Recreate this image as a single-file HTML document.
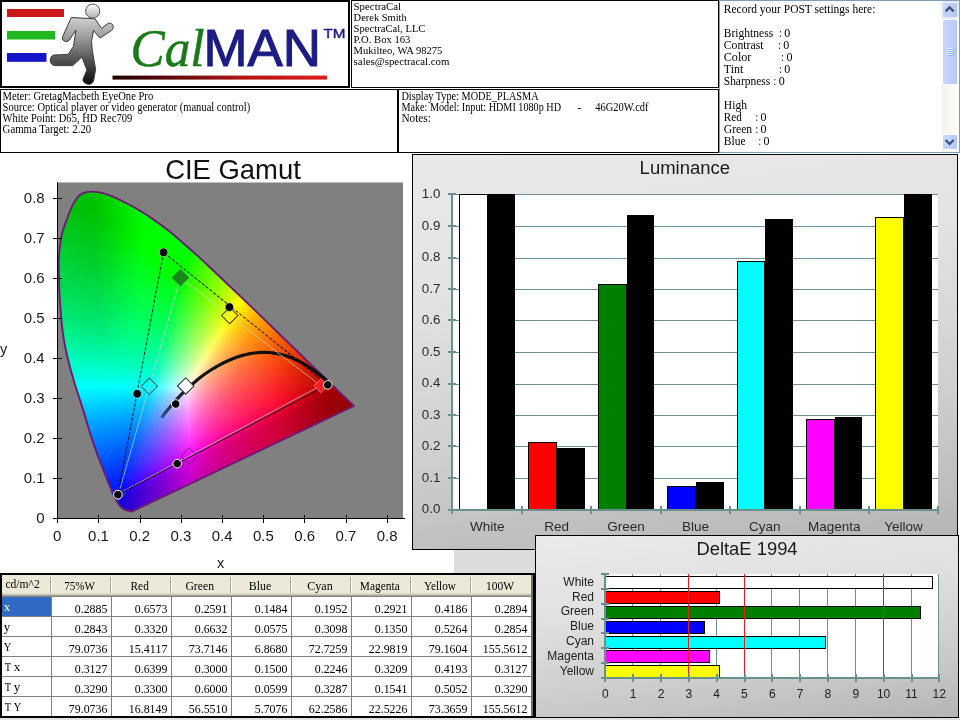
<!DOCTYPE html><html><head><meta charset="utf-8"><title>CalMAN</title><style>
html,body{margin:0;padding:0;background:#fff;}
body{width:960px;height:720px;position:relative;overflow:hidden;font-family:"Liberation Serif",serif;color:#000;}
.abs{position:absolute;box-sizing:border-box;}
.box{position:absolute;box-sizing:border-box;border:1px solid #000;background:#fff;}
.t{position:absolute;white-space:pre;font-family:"Liberation Serif",serif;font-size:12px;line-height:11px;color:#000;}
.s{font-family:"Liberation Sans",sans-serif;}
svg{position:absolute;left:0;top:0;overflow:visible;will-change:transform;}
svg text{font-family:"Liberation Sans",sans-serif;}
svg .sf text{font-family:"Liberation Serif",serif;}
</style></head><body><div class="box" style="left:0;top:0;width:350px;height:88px;border-width:2px;"></div>
<div class="box" style="left:351px;top:0;width:368px;height:88px;"></div>
<div class="box" style="left:0;top:89px;width:398px;height:64px;"></div>
<div class="box" style="left:397px;top:89px;width:322px;height:64px;border-left-width:2px;"></div>
<div class="abs" style="left:719px;top:0;width:241px;height:153px;border:1px solid #7f9db9;background:#fff;"></div>
<svg width="960" height="720" viewBox="0 0 960 720" style="font-family:'Liberation Serif',serif;"><g class="sf"><text x="353.60" y="10.40" font-size="11" textLength="47.50" lengthAdjust="spacingAndGlyphs" fill="#000">SpectraCal</text><text x="353.60" y="21.40" font-size="11" textLength="53.10" lengthAdjust="spacingAndGlyphs" fill="#000">Derek Smith</text><text x="353.60" y="32.40" font-size="11" textLength="71.85" lengthAdjust="spacingAndGlyphs" fill="#000">SpectraCal, LLC</text><text x="353.60" y="43.40" font-size="11" textLength="56.85" lengthAdjust="spacingAndGlyphs" fill="#000">P.O. Box 163</text><text x="353.60" y="54.40" font-size="11" textLength="88.70" lengthAdjust="spacingAndGlyphs" fill="#000">Mukilteo, WA 98275</text><text x="353.60" y="65.40" font-size="11" textLength="95.85" lengthAdjust="spacingAndGlyphs" fill="#000">sales@spectracal.com</text><text x="2.60" y="100.00" font-size="11.5" textLength="150.60" lengthAdjust="spacingAndGlyphs" fill="#000">Meter: GretagMacbeth EyeOne Pro</text><text x="2.60" y="111.00" font-size="11.5" textLength="247.60" lengthAdjust="spacingAndGlyphs" fill="#000">Source: Optical player or video generator (manual control)</text><text x="2.60" y="122.00" font-size="11.5" textLength="129.60" lengthAdjust="spacingAndGlyphs" fill="#000">White Point: D65, HD Rec709</text><text x="2.60" y="133.00" font-size="11.5" textLength="88.60" lengthAdjust="spacingAndGlyphs" fill="#000">Gamma Target: 2.20</text><text x="401.40" y="100.00" font-size="11.5" textLength="137.20" lengthAdjust="spacingAndGlyphs" fill="#000">Display Type: MODE_PLASMA</text><text x="401.40" y="111.00" font-size="11.5" textLength="159.60" lengthAdjust="spacingAndGlyphs" fill="#000">Make: Model: Input: HDMI 1080p HD</text><text x="577.60" y="111.00" font-size="11.5" textLength="3.60" lengthAdjust="spacingAndGlyphs" fill="#000">-</text><text x="595.20" y="111.00" font-size="11.5" textLength="53.40" lengthAdjust="spacingAndGlyphs" fill="#000">46G20W.cdf</text><text x="401.40" y="122.00" font-size="11.5" textLength="29.50" lengthAdjust="spacingAndGlyphs" fill="#000">Notes:</text><text x="723.80" y="12.80" font-size="12" textLength="151.60" lengthAdjust="spacingAndGlyphs" fill="#000">Record your POST settings here:</text><text x="723.80" y="36.80" font-size="12" textLength="49.45" lengthAdjust="spacingAndGlyphs" fill="#000">Brightness</text><text x="779.20" y="36.80" font-size="12" textLength="2.60" lengthAdjust="spacingAndGlyphs" fill="#000">:</text><text x="784.30" y="36.80" font-size="12" textLength="6.00" lengthAdjust="spacingAndGlyphs" fill="#000">0</text><text x="723.80" y="48.80" font-size="12" textLength="39.70" lengthAdjust="spacingAndGlyphs" fill="#000">Contrast</text><text x="778.30" y="48.80" font-size="12" textLength="2.60" lengthAdjust="spacingAndGlyphs" fill="#000">:</text><text x="783.30" y="48.80" font-size="12" textLength="6.00" lengthAdjust="spacingAndGlyphs" fill="#000">0</text><text x="723.80" y="60.80" font-size="12" textLength="27.50" lengthAdjust="spacingAndGlyphs" fill="#000">Color</text><text x="781.30" y="60.80" font-size="12" textLength="2.60" lengthAdjust="spacingAndGlyphs" fill="#000">:</text><text x="786.50" y="60.80" font-size="12" textLength="6.00" lengthAdjust="spacingAndGlyphs" fill="#000">0</text><text x="723.80" y="72.80" font-size="12" textLength="19.45" lengthAdjust="spacingAndGlyphs" fill="#000">Tint</text><text x="779.20" y="72.80" font-size="12" textLength="2.60" lengthAdjust="spacingAndGlyphs" fill="#000">:</text><text x="784.30" y="72.80" font-size="12" textLength="6.00" lengthAdjust="spacingAndGlyphs" fill="#000">0</text><text x="723.80" y="84.80" font-size="12" textLength="46.30" lengthAdjust="spacingAndGlyphs" fill="#000">Sharpness</text><text x="773.50" y="84.80" font-size="12" textLength="2.60" lengthAdjust="spacingAndGlyphs" fill="#000">:</text><text x="778.70" y="84.80" font-size="12" textLength="6.00" lengthAdjust="spacingAndGlyphs" fill="#000">0</text><text x="723.80" y="108.80" font-size="12" textLength="23.20" lengthAdjust="spacingAndGlyphs" fill="#000">High</text><text x="723.80" y="120.80" font-size="12" textLength="17.95" lengthAdjust="spacingAndGlyphs" fill="#000">Red</text><text x="755.50" y="120.80" font-size="12" textLength="2.60" lengthAdjust="spacingAndGlyphs" fill="#000">:</text><text x="760.50" y="120.80" font-size="12" textLength="6.00" lengthAdjust="spacingAndGlyphs" fill="#000">0</text><text x="723.80" y="132.80" font-size="12" textLength="28.40" lengthAdjust="spacingAndGlyphs" fill="#000">Green</text><text x="755.50" y="132.80" font-size="12" textLength="2.60" lengthAdjust="spacingAndGlyphs" fill="#000">:</text><text x="760.50" y="132.80" font-size="12" textLength="6.00" lengthAdjust="spacingAndGlyphs" fill="#000">0</text><text x="723.80" y="144.80" font-size="12" textLength="21.70" lengthAdjust="spacingAndGlyphs" fill="#000">Blue</text><text x="758.40" y="144.80" font-size="12" textLength="2.60" lengthAdjust="spacingAndGlyphs" fill="#000">:</text><text x="763.45" y="144.80" font-size="12" textLength="6.00" lengthAdjust="spacingAndGlyphs" fill="#000">0</text></g></svg>
<svg width="960" height="720" viewBox="0 0 960 720">
<defs>
<linearGradient id="sbt" x1="0" x2="1" y1="0" y2="0"><stop offset="0" stop-color="#f3f1ec"/><stop offset="1" stop-color="#fefefb"/></linearGradient>
<linearGradient id="sbb" x1="0" x2="1" y1="0" y2="0"><stop offset="0" stop-color="#c9d7fc"/><stop offset="0.7" stop-color="#bccdfa"/><stop offset="1" stop-color="#b0c3f4"/></linearGradient>
</defs>
<rect x="942" y="1" width="17" height="151" fill="url(#sbt)"/>
<rect x="942.5" y="2.5" width="15" height="15" rx="2" fill="url(#sbb)" stroke="#fff" />
<rect x="942.5" y="134.5" width="15" height="15" rx="2" fill="url(#sbb)" stroke="#fff"/>
<rect x="942.5" y="19.5" width="15" height="65" rx="2" fill="url(#sbb)" stroke="#fff"/>
<rect x="942" y="2" width="16" height="16" rx="2.5" fill="none" stroke="#b4c4ee" stroke-width="0.6"/>
<path d="M945.6,11.4 L949.6,7.4 L953.6,11.4" fill="none" stroke="#3a4f80" stroke-width="2.2"/>
<path d="M945.6,140 L949.6,144 L953.6,140" fill="none" stroke="#3a4f80" stroke-width="2.2"/>
<path d="M947,48.5h6M947,50.5h6M947,52.5h6M947,54.5h6" stroke="#eef4fe" stroke-width="1"/>
<path d="M948,49.5h6M948,51.5h6M948,53.5h6M948,55.5h6" stroke="#8cb0f8" stroke-width="1"/>
</svg>
<svg width="960" height="720" viewBox="0 0 960 720">
<defs>
<linearGradient id="mg" x1="0" y1="0" x2="0" y2="1"><stop offset="0" stop-color="#d0d0d0"/><stop offset="0.3" stop-color="#9c9c9c"/><stop offset="0.62" stop-color="#565656"/><stop offset="1" stop-color="#0c0c0c"/></linearGradient>
<linearGradient id="hg" x1="0" y1="0" x2="0" y2="1"><stop offset="0" stop-color="#fdfdfd"/><stop offset="1" stop-color="#b0b0b0"/></linearGradient>
<linearGradient id="ul" x1="0" y1="0" x2="1" y2="0"><stop offset="0" stop-color="#200000"/><stop offset="0.25" stop-color="#5a0808"/><stop offset="0.6" stop-color="#b01414"/><stop offset="1" stop-color="#e01c1c"/></linearGradient>
</defs>
<rect x="7" y="9" width="57" height="8" fill="#c81818"/>
<rect x="7" y="31" width="48" height="8.5" fill="#1fb81f"/>
<rect x="7" y="53" width="39.5" height="8.8" fill="#1414c8"/>
<path d="M 71.25,17.50 L 95.00,18.75 L 101.50,28.50 L 108.50,23.12 Q 112.50,22.75 113.25,26.50 Q 113.25,29.38 111.25,30.62 L 100.00,38.12 L 93.50,30.62 L 91.50,41.25 L 92.25,50.00 L 95.62,69.38 L 93.50,81.25 Q 91.25,85.25 86.88,84.00 Q 82.25,82.50 83.12,78.75 L 86.88,70.00 L 81.88,56.88 L 72.75,65.62 L 54.38,65.62 Q 50.00,64.38 50.25,60.00 Q 50.62,55.62 53.75,55.00 L 68.12,54.38 L 73.50,46.25 L 76.00,30.00 L 68.50,41.00 Q 65.00,42.75 62.88,40.00 Q 61.75,38.12 63.12,35.62 Z" fill="url(#mg)" stroke="#3a3a3a" stroke-width="1" stroke-linejoin="round"/>
<circle cx="92.7" cy="11.1" r="7.1" fill="url(#hg)" stroke="#555" stroke-width="1"/>
<rect x="112.5" y="75.6" width="214.5" height="4" fill="url(#ul)"/>
<text x="130.6" y="65.5" style="font-family:'Liberation Serif',serif;font-style:italic;font-size:53.5px;" fill="#1a7a1a" stroke="#1a7a1a" stroke-width="0.5" textLength="74" lengthAdjust="spacingAndGlyphs">Cal</text>
<text x="203.4" y="66.2" style="font-size:52.5px;" fill="#1c1c84" stroke="#1c1c84" stroke-width="1.1" textLength="117.5" lengthAdjust="spacingAndGlyphs">MAN</text>
<text x="323.5" y="37.5" style="font-size:13px;" fill="#1c1c84" stroke="#1c1c84" stroke-width="0.4" textLength="22" lengthAdjust="spacingAndGlyphs">TM</text>
</svg>
<svg width="960" height="720" viewBox="0 0 960 720"><defs><linearGradient id="r0"><stop offset="0" stop-color="#00bf00"/><stop offset="1" stop-color="#00c400"/></linearGradient><linearGradient id="r1"><stop offset="0" stop-color="#00bb00"/><stop offset="1" stop-color="#00cf00"/></linearGradient><linearGradient id="r2"><stop offset="0" stop-color="#00ba00"/><stop offset="1" stop-color="#00d500"/></linearGradient><linearGradient id="r3"><stop offset="0" stop-color="#00ba00"/><stop offset="0.5" stop-color="#00c400"/><stop offset="1" stop-color="#00db00"/></linearGradient><linearGradient id="r4"><stop offset="0" stop-color="#00bb03"/><stop offset="0.447" stop-color="#00c300"/><stop offset="1" stop-color="#00e100"/></linearGradient><linearGradient id="r5"><stop offset="0" stop-color="#00bc06"/><stop offset="0.434" stop-color="#00c300"/><stop offset="1" stop-color="#00e700"/></linearGradient><linearGradient id="r6"><stop offset="0" stop-color="#00bd08"/><stop offset="0.397" stop-color="#00c200"/><stop offset="1" stop-color="#00ec00"/></linearGradient><linearGradient id="r7"><stop offset="0" stop-color="#00be0a"/><stop offset="0.371" stop-color="#00c100"/><stop offset="1" stop-color="#00ef00"/></linearGradient><linearGradient id="r8"><stop offset="0" stop-color="#00be0c"/><stop offset="0.358" stop-color="#00c100"/><stop offset="1" stop-color="#00f400"/></linearGradient><linearGradient id="r9"><stop offset="0" stop-color="#00bf0e"/><stop offset="0.329" stop-color="#00c000"/><stop offset="1" stop-color="#00f700"/></linearGradient><linearGradient id="r10"><stop offset="0" stop-color="#00c00f"/><stop offset="0.392" stop-color="#00c400"/><stop offset="1" stop-color="#00fa00"/></linearGradient><linearGradient id="r11"><stop offset="0" stop-color="#00c111"/><stop offset="0.367" stop-color="#00c300"/><stop offset="1" stop-color="#00fd00"/></linearGradient><linearGradient id="r12"><stop offset="0" stop-color="#00c213"/><stop offset="0.373" stop-color="#00c402"/><stop offset="0.831" stop-color="#00f400"/><stop offset="1" stop-color="#00fe00"/></linearGradient><linearGradient id="r13"><stop offset="0" stop-color="#00c215"/><stop offset="0.218" stop-color="#00bf0c"/><stop offset="0.391" stop-color="#00c602"/><stop offset="0.793" stop-color="#00f300"/><stop offset="1" stop-color="#00ff00"/></linearGradient><linearGradient id="r14"><stop offset="0" stop-color="#00c316"/><stop offset="0.322" stop-color="#00c308"/><stop offset="0.433" stop-color="#00cb00"/><stop offset="0.856" stop-color="#00fb00"/><stop offset="1" stop-color="#00ff00"/></linearGradient><linearGradient id="r15"><stop offset="0" stop-color="#00c418"/><stop offset="0.33" stop-color="#00c409"/><stop offset="0.447" stop-color="#00cd00"/><stop offset="0.84" stop-color="#00fc00"/><stop offset="1" stop-color="#00ff00"/></linearGradient><linearGradient id="r16"><stop offset="0" stop-color="#00c51a"/><stop offset="0.34" stop-color="#00c50a"/><stop offset="0.474" stop-color="#00d100"/><stop offset="0.825" stop-color="#00fc00"/><stop offset="1" stop-color="#00ff00"/></linearGradient><linearGradient id="r17"><stop offset="0" stop-color="#00c51c"/><stop offset="0.32" stop-color="#00c50c"/><stop offset="0.49" stop-color="#00d500"/><stop offset="0.8" stop-color="#00fc00"/><stop offset="1" stop-color="#00ff00"/></linearGradient><linearGradient id="r18"><stop offset="0" stop-color="#00c61d"/><stop offset="0.327" stop-color="#00c60d"/><stop offset="0.5" stop-color="#00d800"/><stop offset="0.74" stop-color="#00f900"/><stop offset="1" stop-color="#00ff00"/></linearGradient><linearGradient id="r19"><stop offset="0" stop-color="#00c71f"/><stop offset="0.336" stop-color="#00c70e"/><stop offset="0.523" stop-color="#00dc00"/><stop offset="0.738" stop-color="#00fa00"/><stop offset="1" stop-color="#00ff00"/></linearGradient><linearGradient id="r20"><stop offset="0" stop-color="#00c821"/><stop offset="0.282" stop-color="#00c512"/><stop offset="0.527" stop-color="#00df00"/><stop offset="0.727" stop-color="#00fb00"/><stop offset="1" stop-color="#00ff00"/></linearGradient><linearGradient id="r21"><stop offset="0" stop-color="#00c923"/><stop offset="0.274" stop-color="#00c514"/><stop offset="0.549" stop-color="#00e300"/><stop offset="0.726" stop-color="#00fc00"/><stop offset="1" stop-color="#00ff00"/></linearGradient><linearGradient id="r22"><stop offset="0" stop-color="#00c924"/><stop offset="0.276" stop-color="#00c616"/><stop offset="0.56" stop-color="#00e800"/><stop offset="0.707" stop-color="#00fc00"/><stop offset="1" stop-color="#00ff00"/></linearGradient><linearGradient id="r23"><stop offset="0" stop-color="#00ca26"/><stop offset="0.286" stop-color="#00c717"/><stop offset="0.571" stop-color="#00eb00"/><stop offset="0.706" stop-color="#00fd00"/><stop offset="1" stop-color="#00ff00"/></linearGradient><linearGradient id="r24"><stop offset="0" stop-color="#00cb28"/><stop offset="0.273" stop-color="#00c719"/><stop offset="0.438" stop-color="#00d70f"/><stop offset="0.587" stop-color="#00ef00"/><stop offset="0.694" stop-color="#00fd00"/><stop offset="1" stop-color="#00ff00"/></linearGradient><linearGradient id="r25"><stop offset="0" stop-color="#00cc29"/><stop offset="0.274" stop-color="#00c81a"/><stop offset="0.403" stop-color="#00d412"/><stop offset="0.589" stop-color="#00f200"/><stop offset="0.677" stop-color="#00fd00"/><stop offset="1" stop-color="#00ff00"/></linearGradient><linearGradient id="r26"><stop offset="0" stop-color="#00cc2b"/><stop offset="0.283" stop-color="#00c91b"/><stop offset="0.669" stop-color="#00fd00"/><stop offset="1" stop-color="#00ff00"/></linearGradient><linearGradient id="r27"><stop offset="0" stop-color="#00cd2d"/><stop offset="0.271" stop-color="#00c91d"/><stop offset="0.667" stop-color="#00fe00"/><stop offset="1" stop-color="#00ff00"/></linearGradient><linearGradient id="r28"><stop offset="0" stop-color="#00ce2e"/><stop offset="0.288" stop-color="#00cb1d"/><stop offset="0.477" stop-color="#00e412"/><stop offset="0.621" stop-color="#00fb00"/><stop offset="1" stop-color="#02ff00"/></linearGradient><linearGradient id="r29"><stop offset="0" stop-color="#00cf30"/><stop offset="0.291" stop-color="#00cc1f"/><stop offset="0.537" stop-color="#00f00e"/><stop offset="0.634" stop-color="#00fd00"/><stop offset="0.978" stop-color="#00ff00"/><stop offset="1" stop-color="#0eff00"/></linearGradient><linearGradient id="r30"><stop offset="0" stop-color="#00cf31"/><stop offset="0.257" stop-color="#00cb22"/><stop offset="0.618" stop-color="#00fd05"/><stop offset="0.956" stop-color="#00ff00"/><stop offset="1" stop-color="#18ff00"/></linearGradient><linearGradient id="r31"><stop offset="0" stop-color="#00d033"/><stop offset="0.261" stop-color="#00cc23"/><stop offset="0.616" stop-color="#00fe07"/><stop offset="0.652" stop-color="#00ff00"/><stop offset="0.942" stop-color="#00ff00"/><stop offset="1" stop-color="#21ff00"/></linearGradient><linearGradient id="r32"><stop offset="0" stop-color="#00d135"/><stop offset="0.248" stop-color="#00cc25"/><stop offset="0.603" stop-color="#00fe0a"/><stop offset="0.66" stop-color="#00ff00"/><stop offset="0.915" stop-color="#00ff00"/><stop offset="1" stop-color="#2dff00"/></linearGradient><linearGradient id="r33"><stop offset="0" stop-color="#00d136"/><stop offset="0.252" stop-color="#00cd27"/><stop offset="0.58" stop-color="#00fd0e"/><stop offset="0.664" stop-color="#00ff00"/><stop offset="0.895" stop-color="#00ff00"/><stop offset="1" stop-color="#36ff00"/></linearGradient><linearGradient id="r34"><stop offset="0" stop-color="#00d238"/><stop offset="0.255" stop-color="#00ce28"/><stop offset="0.572" stop-color="#00fd11"/><stop offset="0.676" stop-color="#00ff00"/><stop offset="0.883" stop-color="#00ff00"/><stop offset="1" stop-color="#3fff00"/></linearGradient><linearGradient id="r35"><stop offset="0" stop-color="#00d33a"/><stop offset="0.259" stop-color="#00cf29"/><stop offset="0.565" stop-color="#00fd14"/><stop offset="0.68" stop-color="#00ff00"/><stop offset="0.864" stop-color="#00ff00"/><stop offset="1" stop-color="#47ff00"/></linearGradient><linearGradient id="r36"><stop offset="0" stop-color="#00d43c"/><stop offset="0.262" stop-color="#00d02b"/><stop offset="0.564" stop-color="#00fe15"/><stop offset="0.691" stop-color="#00ff00"/><stop offset="0.852" stop-color="#00ff00"/><stop offset="0.893" stop-color="#1bff00"/><stop offset="1" stop-color="#50ff00"/></linearGradient><linearGradient id="r37"><stop offset="0" stop-color="#00d43e"/><stop offset="0.245" stop-color="#00d02d"/><stop offset="0.543" stop-color="#00fd19"/><stop offset="0.702" stop-color="#00ff00"/><stop offset="0.834" stop-color="#00ff00"/><stop offset="1" stop-color="#58ff00"/></linearGradient><linearGradient id="r38"><stop offset="0" stop-color="#00d53f"/><stop offset="0.229" stop-color="#00d030"/><stop offset="0.32" stop-color="#00d82b"/><stop offset="0.536" stop-color="#00fd1c"/><stop offset="0.706" stop-color="#00ff00"/><stop offset="0.824" stop-color="#00ff00"/><stop offset="0.882" stop-color="#27ff00"/><stop offset="1" stop-color="#61ff00"/></linearGradient><linearGradient id="r39"><stop offset="0" stop-color="#00d641"/><stop offset="0.231" stop-color="#00d132"/><stop offset="0.526" stop-color="#00fd1e"/><stop offset="0.712" stop-color="#00ff00"/><stop offset="0.801" stop-color="#00ff00"/><stop offset="0.853" stop-color="#22ff00"/><stop offset="1" stop-color="#6dff00"/></linearGradient><linearGradient id="r40"><stop offset="0" stop-color="#00d743"/><stop offset="0.234" stop-color="#00d233"/><stop offset="0.525" stop-color="#00fe20"/><stop offset="0.715" stop-color="#00ff00"/><stop offset="0.785" stop-color="#00ff00"/><stop offset="0.873" stop-color="#36ff00"/><stop offset="1" stop-color="#76ff00"/></linearGradient><linearGradient id="r41"><stop offset="0" stop-color="#00d745"/><stop offset="0.219" stop-color="#00d236"/><stop offset="0.294" stop-color="#00d832"/><stop offset="0.506" stop-color="#00fd24"/><stop offset="0.725" stop-color="#00ff00"/><stop offset="0.775" stop-color="#00ff00"/><stop offset="0.844" stop-color="#2eff00"/><stop offset="1" stop-color="#7fff00"/></linearGradient><linearGradient id="r42"><stop offset="0" stop-color="#00d847"/><stop offset="0.222" stop-color="#00d337"/><stop offset="0.309" stop-color="#00db33"/><stop offset="0.5" stop-color="#00fd26"/><stop offset="0.759" stop-color="#00ff00"/><stop offset="0.858" stop-color="#3eff00"/><stop offset="1" stop-color="#88ff00"/></linearGradient><linearGradient id="r43"><stop offset="0" stop-color="#00d949"/><stop offset="0.226" stop-color="#00d439"/><stop offset="0.494" stop-color="#00fd29"/><stop offset="0.75" stop-color="#00ff00"/><stop offset="0.817" stop-color="#2fff00"/><stop offset="1" stop-color="#92ff00"/></linearGradient><linearGradient id="r44"><stop offset="0" stop-color="#00da4b"/><stop offset="0.229" stop-color="#00d53b"/><stop offset="0.494" stop-color="#00fe2b"/><stop offset="0.735" stop-color="#00ff03"/><stop offset="0.801" stop-color="#2eff00"/><stop offset="1" stop-color="#9bff00"/></linearGradient><linearGradient id="r45"><stop offset="0" stop-color="#00da4d"/><stop offset="0.232" stop-color="#00d63c"/><stop offset="0.5" stop-color="#00ff2c"/><stop offset="0.726" stop-color="#00ff07"/><stop offset="0.798" stop-color="#34ff00"/><stop offset="1" stop-color="#a5ff00"/></linearGradient><linearGradient id="r46"><stop offset="0" stop-color="#00db4f"/><stop offset="0.218" stop-color="#00d63f"/><stop offset="0.494" stop-color="#00ff2e"/><stop offset="0.712" stop-color="#00ff0c"/><stop offset="0.759" stop-color="#24ff00"/><stop offset="1" stop-color="#afff00"/></linearGradient><linearGradient id="r47"><stop offset="0" stop-color="#00dc51"/><stop offset="0.221" stop-color="#00d741"/><stop offset="0.488" stop-color="#00ff31"/><stop offset="0.703" stop-color="#01ff10"/><stop offset="0.767" stop-color="#31ff00"/><stop offset="1" stop-color="#baff00"/></linearGradient><linearGradient id="r48"><stop offset="0" stop-color="#00dd53"/><stop offset="0.224" stop-color="#00d843"/><stop offset="0.466" stop-color="#00fe35"/><stop offset="0.69" stop-color="#00ff14"/><stop offset="0.77" stop-color="#3bff00"/><stop offset="1" stop-color="#c4ff00"/></linearGradient><linearGradient id="r49"><stop offset="0" stop-color="#00de55"/><stop offset="0.22" stop-color="#00d945"/><stop offset="0.469" stop-color="#00ff37"/><stop offset="0.672" stop-color="#00ff18"/><stop offset="0.774" stop-color="#48ff00"/><stop offset="1" stop-color="#d3ff00"/></linearGradient><linearGradient id="r50"><stop offset="0" stop-color="#00de58"/><stop offset="0.223" stop-color="#00da47"/><stop offset="0.464" stop-color="#00ff39"/><stop offset="0.665" stop-color="#00ff1b"/><stop offset="0.693" stop-color="#1aff16"/><stop offset="0.777" stop-color="#52ff00"/><stop offset="1" stop-color="#deff00"/></linearGradient><linearGradient id="r51"><stop offset="0" stop-color="#00df5a"/><stop offset="0.21" stop-color="#00da4a"/><stop offset="0.459" stop-color="#00ff3c"/><stop offset="0.652" stop-color="#00ff1f"/><stop offset="0.785" stop-color="#5fff00"/><stop offset="1" stop-color="#eaff00"/></linearGradient><linearGradient id="r52"><stop offset="0" stop-color="#00e05c"/><stop offset="0.23" stop-color="#00dc4b"/><stop offset="0.437" stop-color="#00fe40"/><stop offset="0.645" stop-color="#00ff22"/><stop offset="0.672" stop-color="#1bff1d"/><stop offset="0.792" stop-color="#6dff00"/><stop offset="1" stop-color="#f6ff00"/></linearGradient><linearGradient id="r53"><stop offset="0" stop-color="#00e15e"/><stop offset="0.211" stop-color="#00dc4e"/><stop offset="0.443" stop-color="#00ff42"/><stop offset="0.632" stop-color="#00ff26"/><stop offset="0.692" stop-color="#32ff1b"/><stop offset="0.795" stop-color="#77ff00"/><stop offset="1" stop-color="#fffb00"/></linearGradient><linearGradient id="r54"><stop offset="0" stop-color="#00e261"/><stop offset="0.214" stop-color="#00dd50"/><stop offset="0.439" stop-color="#00ff44"/><stop offset="0.626" stop-color="#01ff2a"/><stop offset="0.684" stop-color="#34ff1f"/><stop offset="0.802" stop-color="#85ff00"/><stop offset="0.973" stop-color="#fcff00"/><stop offset="1" stop-color="#ffef00"/></linearGradient><linearGradient id="r55"><stop offset="0" stop-color="#00e263"/><stop offset="0.217" stop-color="#00de52"/><stop offset="0.434" stop-color="#00ff47"/><stop offset="0.614" stop-color="#00ff2e"/><stop offset="0.688" stop-color="#3fff20"/><stop offset="0.804" stop-color="#8fff00"/><stop offset="0.958" stop-color="#fdff00"/><stop offset="1" stop-color="#ffe400"/></linearGradient><linearGradient id="r56"><stop offset="0" stop-color="#00e366"/><stop offset="0.22" stop-color="#00df54"/><stop offset="0.414" stop-color="#00fe4c"/><stop offset="0.602" stop-color="#00ff31"/><stop offset="0.675" stop-color="#3eff24"/><stop offset="0.812" stop-color="#9eff00"/><stop offset="0.942" stop-color="#feff00"/><stop offset="1" stop-color="#ffda00"/></linearGradient><linearGradient id="r57"><stop offset="0" stop-color="#00e468"/><stop offset="0.197" stop-color="#00df58"/><stop offset="0.42" stop-color="#00ff4d"/><stop offset="0.596" stop-color="#00ff35"/><stop offset="0.627" stop-color="#20ff2f"/><stop offset="0.819" stop-color="#adff00"/><stop offset="0.927" stop-color="#ffff00"/><stop offset="1" stop-color="#ffd000"/></linearGradient><linearGradient id="r58"><stop offset="0" stop-color="#00e56b"/><stop offset="0.2" stop-color="#00e05a"/><stop offset="0.415" stop-color="#00ff50"/><stop offset="0.585" stop-color="#00ff39"/><stop offset="0.651" stop-color="#3bff2d"/><stop offset="0.821" stop-color="#b8ff00"/><stop offset="0.908" stop-color="#fcff00"/><stop offset="1" stop-color="#ffc600"/></linearGradient><linearGradient id="r59"><stop offset="0" stop-color="#00e66d"/><stop offset="0.199" stop-color="#00e15d"/><stop offset="0.408" stop-color="#00ff53"/><stop offset="0.577" stop-color="#00ff3c"/><stop offset="0.622" stop-color="#2eff34"/><stop offset="0.74" stop-color="#87ff1c"/><stop offset="0.827" stop-color="#c8ff00"/><stop offset="0.893" stop-color="#fdff00"/><stop offset="1" stop-color="#ffbd00"/></linearGradient><linearGradient id="r60"><stop offset="0" stop-color="#00e66f"/><stop offset="0.202" stop-color="#00e25f"/><stop offset="0.389" stop-color="#00fe57"/><stop offset="0.566" stop-color="#00ff40"/><stop offset="0.616" stop-color="#31ff37"/><stop offset="0.727" stop-color="#87ff21"/><stop offset="0.828" stop-color="#d5ff00"/><stop offset="0.879" stop-color="#feff00"/><stop offset="1" stop-color="#ffb400"/></linearGradient><linearGradient id="r61"><stop offset="0" stop-color="#00e772"/><stop offset="0.204" stop-color="#00e362"/><stop offset="0.393" stop-color="#00ff59"/><stop offset="0.552" stop-color="#00ff44"/><stop offset="0.612" stop-color="#38ff3a"/><stop offset="0.751" stop-color="#a5ff1c"/><stop offset="0.831" stop-color="#e6ff00"/><stop offset="0.861" stop-color="#ffff00"/><stop offset="0.91" stop-color="#ffda00"/><stop offset="1" stop-color="#ffaa00"/></linearGradient><linearGradient id="r62"><stop offset="0" stop-color="#00e875"/><stop offset="0.202" stop-color="#00e464"/><stop offset="0.389" stop-color="#00ff5c"/><stop offset="0.547" stop-color="#00ff47"/><stop offset="0.611" stop-color="#3fff3c"/><stop offset="0.724" stop-color="#9aff25"/><stop offset="0.847" stop-color="#fffe00"/><stop offset="0.936" stop-color="#ffc100"/><stop offset="1" stop-color="#ffa200"/></linearGradient><linearGradient id="r63"><stop offset="0" stop-color="#00e977"/><stop offset="0.205" stop-color="#00e567"/><stop offset="0.371" stop-color="#00fe61"/><stop offset="0.537" stop-color="#00ff4b"/><stop offset="0.585" stop-color="#31ff43"/><stop offset="0.712" stop-color="#9aff2a"/><stop offset="0.834" stop-color="#fffd03"/><stop offset="0.907" stop-color="#ffc800"/><stop offset="1" stop-color="#ff9b00"/></linearGradient><linearGradient id="r64"><stop offset="0" stop-color="#00ea7a"/><stop offset="0.175" stop-color="#00e56b"/><stop offset="0.364" stop-color="#00fe64"/><stop offset="0.529" stop-color="#00ff4e"/><stop offset="0.578" stop-color="#34ff47"/><stop offset="0.728" stop-color="#b2ff28"/><stop offset="0.816" stop-color="#fdff0d"/><stop offset="0.845" stop-color="#ffe800"/><stop offset="0.898" stop-color="#ffc400"/><stop offset="1" stop-color="#ff9400"/></linearGradient><linearGradient id="r65"><stop offset="0" stop-color="#00eb7d"/><stop offset="0.178" stop-color="#00e66e"/><stop offset="0.37" stop-color="#00ff66"/><stop offset="0.519" stop-color="#00ff53"/><stop offset="0.572" stop-color="#37ff4a"/><stop offset="0.803" stop-color="#ffff14"/><stop offset="0.846" stop-color="#ffdc00"/><stop offset="0.933" stop-color="#ffa900"/><stop offset="1" stop-color="#ff8d00"/></linearGradient><linearGradient id="r66"><stop offset="0" stop-color="#00eb80"/><stop offset="0.181" stop-color="#00e771"/><stop offset="0.367" stop-color="#00ff69"/><stop offset="0.514" stop-color="#00ff56"/><stop offset="0.567" stop-color="#3aff4e"/><stop offset="0.79" stop-color="#fffe1a"/><stop offset="0.852" stop-color="#ffce00"/><stop offset="0.933" stop-color="#ffa100"/><stop offset="1" stop-color="#fe8600"/></linearGradient><linearGradient id="r67"><stop offset="0" stop-color="#00ec83"/><stop offset="0.184" stop-color="#00e874"/><stop offset="0.349" stop-color="#00fe6e"/><stop offset="0.505" stop-color="#00ff5a"/><stop offset="0.561" stop-color="#3dff51"/><stop offset="0.778" stop-color="#fffd20"/><stop offset="0.858" stop-color="#ffc100"/><stop offset="1" stop-color="#fd8000"/></linearGradient><linearGradient id="r68"><stop offset="0" stop-color="#00ed86"/><stop offset="0.187" stop-color="#00e977"/><stop offset="0.355" stop-color="#00ff70"/><stop offset="0.495" stop-color="#00ff5e"/><stop offset="0.565" stop-color="#49ff53"/><stop offset="0.762" stop-color="#fdff28"/><stop offset="0.86" stop-color="#ffb700"/><stop offset="1" stop-color="#fc7900"/></linearGradient><linearGradient id="r69"><stop offset="0" stop-color="#00ee89"/><stop offset="0.185" stop-color="#00ea7a"/><stop offset="0.352" stop-color="#00ff74"/><stop offset="0.491" stop-color="#00ff62"/><stop offset="0.537" stop-color="#36ff5b"/><stop offset="0.75" stop-color="#feff2e"/><stop offset="0.806" stop-color="#ffd017"/><stop offset="0.866" stop-color="#ffab00"/><stop offset="1" stop-color="#fb7300"/></linearGradient><linearGradient id="r70"><stop offset="0" stop-color="#00ef8c"/><stop offset="0.184" stop-color="#00eb7d"/><stop offset="0.346" stop-color="#00ff77"/><stop offset="0.479" stop-color="#00ff66"/><stop offset="0.53" stop-color="#39ff5f"/><stop offset="0.737" stop-color="#fffe33"/><stop offset="0.788" stop-color="#ffd21e"/><stop offset="0.866" stop-color="#ffa300"/><stop offset="1" stop-color="#fa6d00"/></linearGradient><linearGradient id="r71"><stop offset="0" stop-color="#00ef8f"/><stop offset="0.187" stop-color="#00ec80"/><stop offset="0.342" stop-color="#00ff7b"/><stop offset="0.475" stop-color="#00ff6a"/><stop offset="0.53" stop-color="#41ff62"/><stop offset="0.726" stop-color="#fffd39"/><stop offset="0.785" stop-color="#ffca1f"/><stop offset="0.872" stop-color="#ff9900"/><stop offset="1" stop-color="#f86700"/></linearGradient><linearGradient id="r72"><stop offset="0" stop-color="#00f092"/><stop offset="0.186" stop-color="#00ed83"/><stop offset="0.335" stop-color="#00ff7f"/><stop offset="0.466" stop-color="#00ff6f"/><stop offset="0.516" stop-color="#3bff67"/><stop offset="0.71" stop-color="#fdff41"/><stop offset="0.769" stop-color="#ffcc26"/><stop offset="0.873" stop-color="#ff9100"/><stop offset="1" stop-color="#f76100"/></linearGradient><linearGradient id="r73"><stop offset="0" stop-color="#00f195"/><stop offset="0.188" stop-color="#00ee87"/><stop offset="0.332" stop-color="#00ff82"/><stop offset="0.462" stop-color="#00ff73"/><stop offset="0.498" stop-color="#30ff6d"/><stop offset="0.7" stop-color="#feff46"/><stop offset="0.785" stop-color="#ffb821"/><stop offset="0.879" stop-color="#ff8800"/><stop offset="1" stop-color="#f55b00"/></linearGradient><linearGradient id="r74"><stop offset="0" stop-color="#00f298"/><stop offset="0.188" stop-color="#00ef8a"/><stop offset="0.326" stop-color="#00ff86"/><stop offset="0.451" stop-color="#00ff77"/><stop offset="0.5" stop-color="#3dff70"/><stop offset="0.683" stop-color="#fbff4d"/><stop offset="0.781" stop-color="#ffb122"/><stop offset="0.879" stop-color="#ff8101"/><stop offset="1" stop-color="#f35600"/></linearGradient><linearGradient id="r75"><stop offset="0" stop-color="#00f39c"/><stop offset="0.186" stop-color="#00f08e"/><stop offset="0.319" stop-color="#00ff8a"/><stop offset="0.442" stop-color="#00ff7c"/><stop offset="0.504" stop-color="#4aff73"/><stop offset="0.673" stop-color="#fcff53"/><stop offset="0.717" stop-color="#ffd63d"/><stop offset="0.774" stop-color="#ffad25"/><stop offset="0.885" stop-color="#ff7900"/><stop offset="1" stop-color="#f05100"/></linearGradient><linearGradient id="r76"><stop offset="0" stop-color="#00f39f"/><stop offset="0.184" stop-color="#00f192"/><stop offset="0.311" stop-color="#00ff8e"/><stop offset="0.434" stop-color="#00ff80"/><stop offset="0.487" stop-color="#44ff79"/><stop offset="0.658" stop-color="#fdff59"/><stop offset="0.715" stop-color="#ffca3b"/><stop offset="0.789" stop-color="#ff9a1f"/><stop offset="0.886" stop-color="#ff7100"/><stop offset="1" stop-color="#ed4a00"/></linearGradient><linearGradient id="r77"><stop offset="0" stop-color="#00f4a3"/><stop offset="0.187" stop-color="#00f295"/><stop offset="0.309" stop-color="#00ff92"/><stop offset="0.426" stop-color="#00ff85"/><stop offset="0.496" stop-color="#56ff7b"/><stop offset="0.648" stop-color="#feff5f"/><stop offset="0.709" stop-color="#ffc53e"/><stop offset="0.787" stop-color="#ff9420"/><stop offset="0.887" stop-color="#ff6b00"/><stop offset="1" stop-color="#ea4500"/></linearGradient><linearGradient id="r78"><stop offset="0" stop-color="#00f5a6"/><stop offset="0.159" stop-color="#00f29b"/><stop offset="0.302" stop-color="#00ff96"/><stop offset="0.422" stop-color="#00ff89"/><stop offset="0.457" stop-color="#32ff85"/><stop offset="0.634" stop-color="#faff66"/><stop offset="0.694" stop-color="#ffc745"/><stop offset="0.767" stop-color="#ff9727"/><stop offset="0.892" stop-color="#fe6400"/><stop offset="1" stop-color="#e74000"/></linearGradient><linearGradient id="r79"><stop offset="0" stop-color="#00f6aa"/><stop offset="0.163" stop-color="#00f39e"/><stop offset="0.296" stop-color="#00ff9a"/><stop offset="0.412" stop-color="#00ff8e"/><stop offset="0.446" stop-color="#30ff8a"/><stop offset="0.622" stop-color="#fcff6d"/><stop offset="0.687" stop-color="#ffc247"/><stop offset="0.764" stop-color="#ff9128"/><stop offset="0.897" stop-color="#fc5c00"/><stop offset="1" stop-color="#e43c00"/></linearGradient><linearGradient id="r80"><stop offset="0" stop-color="#00f6ae"/><stop offset="0.166" stop-color="#00f4a2"/><stop offset="0.294" stop-color="#00ff9e"/><stop offset="0.409" stop-color="#00ff93"/><stop offset="0.447" stop-color="#39ff8e"/><stop offset="0.613" stop-color="#fdff73"/><stop offset="0.685" stop-color="#ffba48"/><stop offset="0.762" stop-color="#ff8b29"/><stop offset="0.898" stop-color="#fb5700"/><stop offset="1" stop-color="#e13700"/></linearGradient><linearGradient id="r81"><stop offset="0" stop-color="#00f7b1"/><stop offset="0.165" stop-color="#00f5a6"/><stop offset="0.398" stop-color="#00ff98"/><stop offset="0.445" stop-color="#42ff92"/><stop offset="0.602" stop-color="#feff79"/><stop offset="0.665" stop-color="#ffbf51"/><stop offset="0.737" stop-color="#ff9032"/><stop offset="0.903" stop-color="#f95000"/><stop offset="1" stop-color="#de3300"/></linearGradient><linearGradient id="r82"><stop offset="0" stop-color="#00f8b5"/><stop offset="0.172" stop-color="#00f6aa"/><stop offset="0.391" stop-color="#00ff9d"/><stop offset="0.445" stop-color="#4bff96"/><stop offset="0.592" stop-color="#fffe80"/><stop offset="0.66" stop-color="#ffba53"/><stop offset="0.735" stop-color="#ff8a33"/><stop offset="0.849" stop-color="#ff5d10"/><stop offset="0.903" stop-color="#f74a00"/><stop offset="1" stop-color="#db2f00"/></linearGradient><linearGradient id="r83"><stop offset="0" stop-color="#00f9b9"/><stop offset="0.388" stop-color="#00ffa2"/><stop offset="0.429" stop-color="#3fff9d"/><stop offset="0.583" stop-color="#fffd85"/><stop offset="0.637" stop-color="#ffc35f"/><stop offset="0.717" stop-color="#ff8d3a"/><stop offset="0.842" stop-color="#ff5a13"/><stop offset="0.908" stop-color="#f44400"/><stop offset="1" stop-color="#d82a00"/></linearGradient><linearGradient id="r84"><stop offset="0" stop-color="#00f9bd"/><stop offset="0.378" stop-color="#00ffa7"/><stop offset="0.423" stop-color="#43ffa2"/><stop offset="0.573" stop-color="#fffc8b"/><stop offset="0.639" stop-color="#ffb75c"/><stop offset="0.71" stop-color="#ff893c"/><stop offset="0.863" stop-color="#fc4d0e"/><stop offset="0.913" stop-color="#f13e00"/><stop offset="1" stop-color="#d42700"/></linearGradient><linearGradient id="r85"><stop offset="0" stop-color="#00fac1"/><stop offset="0.374" stop-color="#00ffac"/><stop offset="0.42" stop-color="#47ffa8"/><stop offset="0.564" stop-color="#fffa91"/><stop offset="0.621" stop-color="#ffbc66"/><stop offset="0.712" stop-color="#ff813b"/><stop offset="0.856" stop-color="#fc4b10"/><stop offset="0.914" stop-color="#ee3900"/><stop offset="1" stop-color="#d12300"/></linearGradient><linearGradient id="r86"><stop offset="0" stop-color="#00fac5"/><stop offset="0.365" stop-color="#00ffb2"/><stop offset="0.402" stop-color="#3affae"/><stop offset="0.549" stop-color="#fffe9c"/><stop offset="0.607" stop-color="#ffbe6d"/><stop offset="0.684" stop-color="#ff8845"/><stop offset="0.848" stop-color="#fc4812"/><stop offset="0.918" stop-color="#eb3300"/><stop offset="1" stop-color="#ce1f00"/></linearGradient><linearGradient id="r87"><stop offset="0" stop-color="#00fbca"/><stop offset="0.362" stop-color="#01ffb7"/><stop offset="0.402" stop-color="#44ffb4"/><stop offset="0.541" stop-color="#fffda2"/><stop offset="0.577" stop-color="#ffd081"/><stop offset="0.61" stop-color="#ffb26a"/><stop offset="0.715" stop-color="#ff7239"/><stop offset="0.854" stop-color="#fa4211"/><stop offset="0.919" stop-color="#e82f00"/><stop offset="1" stop-color="#cb1c00"/></linearGradient><linearGradient id="r88"><stop offset="0" stop-color="#00fcce"/><stop offset="0.352" stop-color="#00ffbd"/><stop offset="0.397" stop-color="#48ffb9"/><stop offset="0.53" stop-color="#fffba8"/><stop offset="0.559" stop-color="#ffd78c"/><stop offset="0.599" stop-color="#ffb06f"/><stop offset="0.696" stop-color="#ff7440"/><stop offset="0.846" stop-color="#fa3f13"/><stop offset="0.923" stop-color="#e32900"/><stop offset="1" stop-color="#c81800"/></linearGradient><linearGradient id="r89"><stop offset="0" stop-color="#00fcd3"/><stop offset="0.345" stop-color="#00ffc3"/><stop offset="0.398" stop-color="#52ffbf"/><stop offset="0.522" stop-color="#fffaae"/><stop offset="0.554" stop-color="#ffd18e"/><stop offset="0.594" stop-color="#ffab71"/><stop offset="0.703" stop-color="#ff6b3d"/><stop offset="0.839" stop-color="#fa3c15"/><stop offset="0.928" stop-color="#df2400"/><stop offset="1" stop-color="#c51500"/></linearGradient><linearGradient id="r90"><stop offset="0" stop-color="#00fdd7"/><stop offset="0.339" stop-color="#00ffc9"/><stop offset="0.371" stop-color="#39ffc7"/><stop offset="0.506" stop-color="#fffeba"/><stop offset="0.542" stop-color="#ffcf94"/><stop offset="0.586" stop-color="#ffa673"/><stop offset="0.681" stop-color="#ff6d44"/><stop offset="0.829" stop-color="#fa3a17"/><stop offset="0.924" stop-color="#db2000"/><stop offset="1" stop-color="#c01100"/></linearGradient><linearGradient id="r91"><stop offset="0" stop-color="#00fddc"/><stop offset="0.329" stop-color="#00ffcf"/><stop offset="0.361" stop-color="#37ffcd"/><stop offset="0.496" stop-color="#fffdc0"/><stop offset="0.528" stop-color="#ffd29d"/><stop offset="0.567" stop-color="#ffab7d"/><stop offset="0.667" stop-color="#ff6d49"/><stop offset="0.825" stop-color="#f93618"/><stop offset="0.929" stop-color="#d71b00"/><stop offset="1" stop-color="#be0e00"/></linearGradient><linearGradient id="r92"><stop offset="0" stop-color="#00fee0"/><stop offset="0.327" stop-color="#00ffd5"/><stop offset="0.37" stop-color="#4effd3"/><stop offset="0.488" stop-color="#fffbc7"/><stop offset="0.52" stop-color="#ffd0a3"/><stop offset="0.559" stop-color="#ffa981"/><stop offset="0.654" stop-color="#ff6d4e"/><stop offset="0.819" stop-color="#f9341a"/><stop offset="0.929" stop-color="#d31800"/><stop offset="1" stop-color="#bb0b00"/></linearGradient><linearGradient id="r93"><stop offset="0" stop-color="#00fee5"/><stop offset="0.318" stop-color="#00ffdc"/><stop offset="0.353" stop-color="#40ffda"/><stop offset="0.478" stop-color="#ffface"/><stop offset="0.506" stop-color="#ffd3ac"/><stop offset="0.549" stop-color="#ffa786"/><stop offset="0.604" stop-color="#ff8064"/><stop offset="0.659" stop-color="#ff644b"/><stop offset="0.812" stop-color="#f9311c"/><stop offset="0.933" stop-color="#ce1300"/><stop offset="1" stop-color="#b90800"/></linearGradient><linearGradient id="r94"><stop offset="0" stop-color="#00feea"/><stop offset="0.315" stop-color="#01ffe2"/><stop offset="0.339" stop-color="#31ffe2"/><stop offset="0.467" stop-color="#fffedb"/><stop offset="0.498" stop-color="#ffd1b2"/><stop offset="0.541" stop-color="#ffa58b"/><stop offset="0.58" stop-color="#ff8870"/><stop offset="0.646" stop-color="#ff6450"/><stop offset="0.805" stop-color="#f92e1e"/><stop offset="0.934" stop-color="#cb1000"/><stop offset="1" stop-color="#b70500"/></linearGradient><linearGradient id="r95"><stop offset="0" stop-color="#00ffef"/><stop offset="0.306" stop-color="#00ffe9"/><stop offset="0.337" stop-color="#3cffe8"/><stop offset="0.457" stop-color="#fffde2"/><stop offset="0.484" stop-color="#ffd4bd"/><stop offset="0.523" stop-color="#ffaa96"/><stop offset="0.57" stop-color="#ff8675"/><stop offset="0.632" stop-color="#ff6455"/><stop offset="0.798" stop-color="#f92c20"/><stop offset="0.938" stop-color="#c60c00"/><stop offset="1" stop-color="#b50100"/></linearGradient><linearGradient id="r96"><stop offset="0" stop-color="#00fff4"/><stop offset="0.3" stop-color="#00fff0"/><stop offset="0.335" stop-color="#41fff0"/><stop offset="0.45" stop-color="#fffbe9"/><stop offset="0.481" stop-color="#ffcebe"/><stop offset="0.515" stop-color="#ffa89b"/><stop offset="0.562" stop-color="#ff8479"/><stop offset="0.623" stop-color="#ff6258"/><stop offset="0.792" stop-color="#f92921"/><stop offset="0.942" stop-color="#c20800"/><stop offset="1" stop-color="#ae0000"/></linearGradient><linearGradient id="r97"><stop offset="0" stop-color="#00fff9"/><stop offset="0.295" stop-color="#00fff8"/><stop offset="0.326" stop-color="#3ffff7"/><stop offset="0.437" stop-color="#fefff6"/><stop offset="0.441" stop-color="#fff9f1"/><stop offset="0.471" stop-color="#ffccc4"/><stop offset="0.51" stop-color="#ffa39c"/><stop offset="0.559" stop-color="#ff7d78"/><stop offset="0.613" stop-color="#ff605c"/><stop offset="0.785" stop-color="#f92623"/><stop offset="0.943" stop-color="#bf0400"/><stop offset="1" stop-color="#a70000"/></linearGradient><linearGradient id="r98"><stop offset="0" stop-color="#00fffe"/><stop offset="0.286" stop-color="#00ffff"/><stop offset="0.321" stop-color="#44ffff"/><stop offset="0.427" stop-color="#ffffff"/><stop offset="0.466" stop-color="#ffc5c5"/><stop offset="0.504" stop-color="#ff9d9e"/><stop offset="0.546" stop-color="#ff7e7e"/><stop offset="0.615" stop-color="#ff595a"/><stop offset="0.737" stop-color="#ff2f30"/><stop offset="0.782" stop-color="#f82324"/><stop offset="0.939" stop-color="#bd0002"/><stop offset="1" stop-color="#a00000"/></linearGradient><linearGradient id="r99"><stop offset="0" stop-color="#00faff"/><stop offset="0.284" stop-color="#00f8ff"/><stop offset="0.314" stop-color="#40f7ff"/><stop offset="0.424" stop-color="#fef5ff"/><stop offset="0.428" stop-color="#ffeff9"/><stop offset="0.458" stop-color="#ffc3cb"/><stop offset="0.504" stop-color="#ff959c"/><stop offset="0.553" stop-color="#ff7279"/><stop offset="0.617" stop-color="#ff5358"/><stop offset="0.777" stop-color="#f82025"/><stop offset="0.913" stop-color="#c40107"/><stop offset="0.962" stop-color="#a70000"/><stop offset="1" stop-color="#9a0000"/></linearGradient><linearGradient id="r100"><stop offset="0" stop-color="#00f5ff"/><stop offset="0.275" stop-color="#00f0ff"/><stop offset="0.317" stop-color="#50efff"/><stop offset="0.419" stop-color="#feecff"/><stop offset="0.423" stop-color="#ffe7fa"/><stop offset="0.46" stop-color="#ffb3c3"/><stop offset="0.491" stop-color="#ff96a4"/><stop offset="0.551" stop-color="#ff6c78"/><stop offset="0.615" stop-color="#ff4d58"/><stop offset="0.725" stop-color="#ff2a33"/><stop offset="0.777" stop-color="#f61b25"/><stop offset="0.898" stop-color="#c7000a"/><stop offset="0.962" stop-color="#9f0000"/><stop offset="1" stop-color="#990000"/></linearGradient><linearGradient id="r101"><stop offset="0" stop-color="#00f0ff"/><stop offset="0.273" stop-color="#01e9ff"/><stop offset="0.303" stop-color="#3fe8ff"/><stop offset="0.419" stop-color="#ffdffa"/><stop offset="0.453" stop-color="#ffb1c9"/><stop offset="0.494" stop-color="#ff8b9f"/><stop offset="0.539" stop-color="#ff6c7e"/><stop offset="0.614" stop-color="#ff4858"/><stop offset="0.764" stop-color="#f81b28"/><stop offset="0.869" stop-color="#d1020f"/><stop offset="0.948" stop-color="#9e0001"/><stop offset="1" stop-color="#990000"/></linearGradient><linearGradient id="r102"><stop offset="0" stop-color="#00ebff"/><stop offset="0.265" stop-color="#00e3ff"/><stop offset="0.291" stop-color="#35e1ff"/><stop offset="0.414" stop-color="#ffd7fb"/><stop offset="0.448" stop-color="#ffabca"/><stop offset="0.481" stop-color="#ff8ba7"/><stop offset="0.541" stop-color="#ff647b"/><stop offset="0.612" stop-color="#ff4458"/><stop offset="0.757" stop-color="#f8182a"/><stop offset="0.854" stop-color="#d40012"/><stop offset="0.929" stop-color="#a00004"/><stop offset="1" stop-color="#980000"/></linearGradient><linearGradient id="r103"><stop offset="0" stop-color="#00e6ff"/><stop offset="0.257" stop-color="#00dcff"/><stop offset="0.286" stop-color="#38daff"/><stop offset="0.409" stop-color="#ffcffc"/><stop offset="0.439" stop-color="#ffa9d0"/><stop offset="0.48" stop-color="#ff83a5"/><stop offset="0.532" stop-color="#ff617f"/><stop offset="0.61" stop-color="#ff3f58"/><stop offset="0.706" stop-color="#ff2138"/><stop offset="0.755" stop-color="#f7142a"/><stop offset="0.836" stop-color="#d80016"/><stop offset="0.907" stop-color="#a40007"/><stop offset="1" stop-color="#970000"/></linearGradient><linearGradient id="r104"><stop offset="0" stop-color="#00e1ff"/><stop offset="0.254" stop-color="#00d5ff"/><stop offset="0.287" stop-color="#41d3ff"/><stop offset="0.404" stop-color="#ffc7fc"/><stop offset="0.441" stop-color="#ff9bc8"/><stop offset="0.489" stop-color="#ff739a"/><stop offset="0.533" stop-color="#ff597c"/><stop offset="0.607" stop-color="#ff3a58"/><stop offset="0.699" stop-color="#ff1e3a"/><stop offset="0.746" stop-color="#f7112c"/><stop offset="0.812" stop-color="#de001a"/><stop offset="0.882" stop-color="#a8000b"/><stop offset="0.934" stop-color="#9a0004"/><stop offset="1" stop-color="#970000"/></linearGradient><linearGradient id="r105"><stop offset="0" stop-color="#00dcff"/><stop offset="0.245" stop-color="#00cfff"/><stop offset="0.271" stop-color="#31cdff"/><stop offset="0.399" stop-color="#ffbffd"/><stop offset="0.429" stop-color="#ff9cd2"/><stop offset="0.465" stop-color="#ff7cab"/><stop offset="0.52" stop-color="#ff5982"/><stop offset="0.597" stop-color="#ff385b"/><stop offset="0.692" stop-color="#ff1b3b"/><stop offset="0.74" stop-color="#f70e2d"/><stop offset="0.791" stop-color="#e5001f"/><stop offset="0.868" stop-color="#aa000d"/><stop offset="0.927" stop-color="#9a0005"/><stop offset="1" stop-color="#960000"/></linearGradient><linearGradient id="r106"><stop offset="0" stop-color="#00d7ff"/><stop offset="0.241" stop-color="#00c9ff"/><stop offset="0.266" stop-color="#34c7ff"/><stop offset="0.394" stop-color="#ffb8fe"/><stop offset="0.423" stop-color="#ff96d3"/><stop offset="0.464" stop-color="#ff74a9"/><stop offset="0.518" stop-color="#ff5381"/><stop offset="0.588" stop-color="#ff365e"/><stop offset="0.697" stop-color="#fe1539"/><stop offset="0.77" stop-color="#eb0024"/><stop offset="0.847" stop-color="#af0010"/><stop offset="0.923" stop-color="#990005"/><stop offset="1" stop-color="#950000"/></linearGradient><linearGradient id="r107"><stop offset="0" stop-color="#00d2ff"/><stop offset="0.236" stop-color="#00c3ff"/><stop offset="0.284" stop-color="#54bfff"/><stop offset="0.393" stop-color="#ffb1fe"/><stop offset="0.422" stop-color="#ff90d4"/><stop offset="0.469" stop-color="#ff6aa4"/><stop offset="0.527" stop-color="#ff4a7c"/><stop offset="0.582" stop-color="#ff3461"/><stop offset="0.695" stop-color="#fe123b"/><stop offset="0.756" stop-color="#ed0028"/><stop offset="0.818" stop-color="#b90016"/><stop offset="0.862" stop-color="#a8000e"/><stop offset="0.913" stop-color="#9a0007"/><stop offset="1" stop-color="#950000"/></linearGradient><linearGradient id="r108"><stop offset="0" stop-color="#00ceff"/><stop offset="0.234" stop-color="#01bdff"/><stop offset="0.27" stop-color="#45b9ff"/><stop offset="0.391" stop-color="#ffaaff"/><stop offset="0.42" stop-color="#ff8ad5"/><stop offset="0.456" stop-color="#ff6daf"/><stop offset="0.511" stop-color="#ff4d86"/><stop offset="0.577" stop-color="#ff3164"/><stop offset="0.712" stop-color="#fb0936"/><stop offset="0.741" stop-color="#f3002e"/><stop offset="0.803" stop-color="#be001a"/><stop offset="0.869" stop-color="#a5000e"/><stop offset="0.931" stop-color="#970006"/><stop offset="1" stop-color="#940000"/></linearGradient><linearGradient id="r109"><stop offset="0" stop-color="#00c9ff"/><stop offset="0.23" stop-color="#00b7ff"/><stop offset="0.264" stop-color="#3cb4ff"/><stop offset="0.394" stop-color="#ffa2ff"/><stop offset="0.424" stop-color="#ff84d6"/><stop offset="0.461" stop-color="#ff68b0"/><stop offset="0.509" stop-color="#ff4c8c"/><stop offset="0.58" stop-color="#ff2f67"/><stop offset="0.721" stop-color="#fb0538"/><stop offset="0.736" stop-color="#f70033"/><stop offset="0.796" stop-color="#c6001f"/><stop offset="0.851" stop-color="#af0014"/><stop offset="0.922" stop-color="#9a000a"/><stop offset="1" stop-color="#940000"/></linearGradient><linearGradient id="r110"><stop offset="0" stop-color="#00c4ff"/><stop offset="0.23" stop-color="#00b2ff"/><stop offset="0.272" stop-color="#44adff"/><stop offset="0.404" stop-color="#ff97fa"/><stop offset="0.43" stop-color="#ff7ed7"/><stop offset="0.472" stop-color="#ff60ae"/><stop offset="0.521" stop-color="#ff468b"/><stop offset="0.585" stop-color="#ff2d6a"/><stop offset="0.732" stop-color="#fb0039"/><stop offset="0.792" stop-color="#cb0023"/><stop offset="0.842" stop-color="#b70019"/><stop offset="0.921" stop-color="#9d000c"/><stop offset="1" stop-color="#950003"/></linearGradient><linearGradient id="r111"><stop offset="0" stop-color="#00c0ff"/><stop offset="0.231" stop-color="#00acff"/><stop offset="0.269" stop-color="#41a8ff"/><stop offset="0.408" stop-color="#ff91fb"/><stop offset="0.458" stop-color="#ff67c0"/><stop offset="0.5" stop-color="#ff4f9e"/><stop offset="0.608" stop-color="#ff2465"/><stop offset="0.727" stop-color="#fd013f"/><stop offset="0.792" stop-color="#cd0027"/><stop offset="0.908" stop-color="#a40011"/><stop offset="1" stop-color="#950006"/></linearGradient><linearGradient id="r112"><stop offset="0" stop-color="#00bbff"/><stop offset="0.23" stop-color="#00a7ff"/><stop offset="0.281" stop-color="#4ea1ff"/><stop offset="0.414" stop-color="#ff8afb"/><stop offset="0.461" stop-color="#ff65c5"/><stop offset="0.531" stop-color="#ff4090"/><stop offset="0.613" stop-color="#ff2268"/><stop offset="0.727" stop-color="#fe0043"/><stop offset="0.789" stop-color="#d1002b"/><stop offset="0.914" stop-color="#a60013"/><stop offset="1" stop-color="#960008"/></linearGradient><linearGradient id="r113"><stop offset="0" stop-color="#00b6ff"/><stop offset="0.232" stop-color="#00a1ff"/><stop offset="0.272" stop-color="#409dff"/><stop offset="0.42" stop-color="#ff84fc"/><stop offset="0.468" stop-color="#ff60c6"/><stop offset="0.532" stop-color="#ff3f96"/><stop offset="0.62" stop-color="#ff1f6b"/><stop offset="0.724" stop-color="#ff0049"/><stop offset="0.788" stop-color="#d50030"/><stop offset="0.924" stop-color="#a80015"/><stop offset="1" stop-color="#97000b"/></linearGradient><linearGradient id="r114"><stop offset="0" stop-color="#00b2ff"/><stop offset="0.229" stop-color="#009dff"/><stop offset="0.269" stop-color="#3d98ff"/><stop offset="0.424" stop-color="#ff7dfd"/><stop offset="0.473" stop-color="#ff5ac7"/><stop offset="0.514" stop-color="#ff45a7"/><stop offset="0.616" stop-color="#ff1f71"/><stop offset="0.718" stop-color="#ff014f"/><stop offset="0.78" stop-color="#d90036"/><stop offset="1" stop-color="#99000e"/></linearGradient><linearGradient id="r115"><stop offset="0" stop-color="#00adff"/><stop offset="0.232" stop-color="#0197ff"/><stop offset="0.27" stop-color="#3a93ff"/><stop offset="0.432" stop-color="#ff77fd"/><stop offset="0.481" stop-color="#ff55c8"/><stop offset="0.552" stop-color="#ff3496"/><stop offset="0.622" stop-color="#ff1c74"/><stop offset="0.718" stop-color="#fe0053"/><stop offset="0.776" stop-color="#db003b"/><stop offset="1" stop-color="#9c0010"/></linearGradient><linearGradient id="r116"><stop offset="0" stop-color="#00a9ff"/><stop offset="0.229" stop-color="#0093ff"/><stop offset="0.263" stop-color="#328eff"/><stop offset="0.436" stop-color="#ff71fe"/><stop offset="0.487" stop-color="#ff50c9"/><stop offset="0.551" stop-color="#ff339c"/><stop offset="0.627" stop-color="#ff1a77"/><stop offset="0.712" stop-color="#fe005a"/><stop offset="0.771" stop-color="#dc0040"/><stop offset="0.856" stop-color="#cb002c"/><stop offset="1" stop-color="#9f0013"/></linearGradient><linearGradient id="r117"><stop offset="0" stop-color="#00a5ff"/><stop offset="0.228" stop-color="#008eff"/><stop offset="0.263" stop-color="#2f89ff"/><stop offset="0.444" stop-color="#ff6afe"/><stop offset="0.483" stop-color="#ff52d5"/><stop offset="0.547" stop-color="#ff34a5"/><stop offset="0.608" stop-color="#ff1f85"/><stop offset="0.707" stop-color="#ff0060"/><stop offset="0.767" stop-color="#dc0045"/><stop offset="0.875" stop-color="#c9002c"/><stop offset="1" stop-color="#a30016"/></linearGradient><linearGradient id="r118"><stop offset="0" stop-color="#00a0ff"/><stop offset="0.23" stop-color="#0089ff"/><stop offset="0.261" stop-color="#2c85ff"/><stop offset="0.451" stop-color="#ff64ff"/><stop offset="0.496" stop-color="#ff4ad2"/><stop offset="0.558" stop-color="#ff2fa6"/><stop offset="0.708" stop-color="#fd0065"/><stop offset="0.765" stop-color="#dc004a"/><stop offset="0.854" stop-color="#d20035"/><stop offset="1" stop-color="#a9001a"/></linearGradient><linearGradient id="r119"><stop offset="0" stop-color="#009cff"/><stop offset="0.226" stop-color="#0084ff"/><stop offset="0.267" stop-color="#347fff"/><stop offset="0.457" stop-color="#ff5eff"/><stop offset="0.502" stop-color="#ff45d3"/><stop offset="0.548" stop-color="#ff31b2"/><stop offset="0.602" stop-color="#ff1f94"/><stop offset="0.701" stop-color="#fd006c"/><stop offset="0.756" stop-color="#dd0050"/><stop offset="0.864" stop-color="#d20037"/><stop offset="1" stop-color="#ad001d"/></linearGradient><linearGradient id="r120"><stop offset="0" stop-color="#0097ff"/><stop offset="0.23" stop-color="#0080ff"/><stop offset="0.286" stop-color="#4578ff"/><stop offset="0.47" stop-color="#ff55fb"/><stop offset="0.553" stop-color="#ff2eb6"/><stop offset="0.613" stop-color="#ff1a95"/><stop offset="0.691" stop-color="#ff0276"/><stop offset="0.756" stop-color="#dc0054"/><stop offset="0.876" stop-color="#d20039"/><stop offset="1" stop-color="#b20021"/></linearGradient><linearGradient id="r121"><stop offset="0" stop-color="#0093ff"/><stop offset="0.226" stop-color="#007bff"/><stop offset="0.288" stop-color="#4773ff"/><stop offset="0.476" stop-color="#ff4ffb"/><stop offset="0.561" stop-color="#ff2ab7"/><stop offset="0.689" stop-color="#ff007c"/><stop offset="0.745" stop-color="#dd005b"/><stop offset="0.873" stop-color="#d4003d"/><stop offset="1" stop-color="#b70024"/></linearGradient><linearGradient id="r122"><stop offset="0" stop-color="#008fff"/><stop offset="0.232" stop-color="#0176ff"/><stop offset="0.295" stop-color="#496eff"/><stop offset="0.488" stop-color="#ff49fc"/><stop offset="0.575" stop-color="#ff25b8"/><stop offset="0.686" stop-color="#ff0184"/><stop offset="0.744" stop-color="#dc0061"/><stop offset="0.894" stop-color="#d3003e"/><stop offset="1" stop-color="#bd0029"/></linearGradient><linearGradient id="r123"><stop offset="0" stop-color="#008bff"/><stop offset="0.228" stop-color="#0072ff"/><stop offset="0.277" stop-color="#386cff"/><stop offset="0.495" stop-color="#ff43fc"/><stop offset="0.569" stop-color="#ff25c2"/><stop offset="0.678" stop-color="#ff018c"/><stop offset="0.738" stop-color="#dc0067"/><stop offset="0.896" stop-color="#d40042"/><stop offset="1" stop-color="#c1002e"/></linearGradient><linearGradient id="r124"><stop offset="0" stop-color="#0086ff"/><stop offset="0.223" stop-color="#006eff"/><stop offset="0.294" stop-color="#4865ff"/><stop offset="0.503" stop-color="#ff3dfd"/><stop offset="0.574" stop-color="#ff21c6"/><stop offset="0.67" stop-color="#ff0296"/><stop offset="0.726" stop-color="#de0070"/><stop offset="0.914" stop-color="#d30042"/><stop offset="1" stop-color="#c50032"/></linearGradient><linearGradient id="r125"><stop offset="0" stop-color="#0082ff"/><stop offset="0.228" stop-color="#006aff"/><stop offset="0.301" stop-color="#4a60ff"/><stop offset="0.513" stop-color="#ff37fd"/><stop offset="0.585" stop-color="#ff1cc7"/><stop offset="0.668" stop-color="#ff009d"/><stop offset="0.72" stop-color="#de0077"/><stop offset="0.819" stop-color="#d7005a"/><stop offset="1" stop-color="#c80036"/></linearGradient><linearGradient id="r126"><stop offset="0" stop-color="#007eff"/><stop offset="0.223" stop-color="#0066ff"/><stop offset="0.277" stop-color="#355fff"/><stop offset="0.521" stop-color="#ff31fe"/><stop offset="0.574" stop-color="#ff1dd5"/><stop offset="0.66" stop-color="#ff01a7"/><stop offset="0.718" stop-color="#dc007c"/><stop offset="0.846" stop-color="#d60058"/><stop offset="1" stop-color="#cb003b"/></linearGradient><linearGradient id="r127"><stop offset="0" stop-color="#0079ff"/><stop offset="0.225" stop-color="#0061ff"/><stop offset="0.28" stop-color="#375aff"/><stop offset="0.533" stop-color="#ff2bfe"/><stop offset="0.599" stop-color="#ff14cf"/><stop offset="0.654" stop-color="#ff02b2"/><stop offset="0.709" stop-color="#dd0086"/><stop offset="0.835" stop-color="#d60060"/><stop offset="1" stop-color="#ce0040"/></linearGradient><linearGradient id="r128"><stop offset="0" stop-color="#0075ff"/><stop offset="0.22" stop-color="#005eff"/><stop offset="0.294" stop-color="#4254ff"/><stop offset="0.542" stop-color="#ff25ff"/><stop offset="0.65" stop-color="#fe00bb"/><stop offset="0.706" stop-color="#dc008c"/><stop offset="0.825" stop-color="#d60067"/><stop offset="1" stop-color="#cf0045"/></linearGradient><linearGradient id="r129"><stop offset="0" stop-color="#0071ff"/><stop offset="0.225" stop-color="#0159ff"/><stop offset="0.301" stop-color="#444fff"/><stop offset="0.555" stop-color="#ff1fff"/><stop offset="0.642" stop-color="#ff00c8"/><stop offset="0.694" stop-color="#dd0097"/><stop offset="0.85" stop-color="#d40066"/><stop offset="1" stop-color="#cf0049"/></linearGradient><linearGradient id="r130"><stop offset="0" stop-color="#006dff"/><stop offset="0.22" stop-color="#0056ff"/><stop offset="0.292" stop-color="#3d4cff"/><stop offset="0.565" stop-color="#ff18ff"/><stop offset="0.631" stop-color="#ff01d5"/><stop offset="0.685" stop-color="#dc00a1"/><stop offset="0.702" stop-color="#db0099"/><stop offset="0.821" stop-color="#d50072"/><stop offset="1" stop-color="#cf004e"/></linearGradient><linearGradient id="r131"><stop offset="0" stop-color="#0069ff"/><stop offset="0.215" stop-color="#0052ff"/><stop offset="0.276" stop-color="#324aff"/><stop offset="0.411" stop-color="#8d36ff"/><stop offset="0.577" stop-color="#fe11ff"/><stop offset="0.62" stop-color="#ff02e4"/><stop offset="0.669" stop-color="#df00b0"/><stop offset="0.699" stop-color="#db00a0"/><stop offset="0.84" stop-color="#d40072"/><stop offset="1" stop-color="#cf0052"/></linearGradient><linearGradient id="r132"><stop offset="0" stop-color="#0065ff"/><stop offset="0.222" stop-color="#004eff"/><stop offset="0.285" stop-color="#3446ff"/><stop offset="0.462" stop-color="#a62aff"/><stop offset="0.595" stop-color="#fe0aff"/><stop offset="0.62" stop-color="#fe00ef"/><stop offset="0.671" stop-color="#dc00b6"/><stop offset="0.715" stop-color="#d900a2"/><stop offset="0.848" stop-color="#d30077"/><stop offset="1" stop-color="#cf0058"/></linearGradient><linearGradient id="r133"><stop offset="0" stop-color="#0060ff"/><stop offset="0.216" stop-color="#004aff"/><stop offset="0.288" stop-color="#3641ff"/><stop offset="0.458" stop-color="#9e27ff"/><stop offset="0.608" stop-color="#fd00ff"/><stop offset="0.654" stop-color="#de00c8"/><stop offset="0.725" stop-color="#d800a4"/><stop offset="0.85" stop-color="#d2007c"/><stop offset="1" stop-color="#ce005c"/></linearGradient><linearGradient id="r134"><stop offset="0" stop-color="#005cff"/><stop offset="0.216" stop-color="#0046ff"/><stop offset="0.297" stop-color="#3c3cff"/><stop offset="0.5" stop-color="#b31bff"/><stop offset="0.595" stop-color="#ec01ff"/><stop offset="0.622" stop-color="#ea00ec"/><stop offset="0.649" stop-color="#dc00d0"/><stop offset="0.736" stop-color="#d700a6"/><stop offset="0.845" stop-color="#d20083"/><stop offset="1" stop-color="#ce0061"/></linearGradient><linearGradient id="r135"><stop offset="0" stop-color="#0058ff"/><stop offset="0.21" stop-color="#0043ff"/><stop offset="0.273" stop-color="#2d3bff"/><stop offset="0.427" stop-color="#8425ff"/><stop offset="0.587" stop-color="#de00fd"/><stop offset="0.629" stop-color="#d900de"/><stop offset="0.748" stop-color="#d500a8"/><stop offset="0.867" stop-color="#d10083"/><stop offset="1" stop-color="#cd0067"/></linearGradient><linearGradient id="r136"><stop offset="0" stop-color="#0054ff"/><stop offset="0.216" stop-color="#013eff"/><stop offset="0.281" stop-color="#2f37ff"/><stop offset="0.46" stop-color="#911cff"/><stop offset="0.576" stop-color="#cf00fe"/><stop offset="0.626" stop-color="#cc00dc"/><stop offset="0.662" stop-color="#d900d8"/><stop offset="0.806" stop-color="#d2009b"/><stop offset="1" stop-color="#cd006c"/></linearGradient><linearGradient id="r137"><stop offset="0" stop-color="#0050ff"/><stop offset="0.211" stop-color="#003bff"/><stop offset="0.278" stop-color="#2d33ff"/><stop offset="0.436" stop-color="#7f1dff"/><stop offset="0.564" stop-color="#c001ff"/><stop offset="0.617" stop-color="#bf00de"/><stop offset="0.684" stop-color="#d700d6"/><stop offset="0.827" stop-color="#d1009d"/><stop offset="1" stop-color="#cc0073"/></linearGradient><linearGradient id="r138"><stop offset="0" stop-color="#004bff"/><stop offset="0.211" stop-color="#0237ff"/><stop offset="0.281" stop-color="#2f2fff"/><stop offset="0.461" stop-color="#8715ff"/><stop offset="0.547" stop-color="#b101ff"/><stop offset="0.609" stop-color="#b300dc"/><stop offset="0.703" stop-color="#d500d5"/><stop offset="0.836" stop-color="#d000a1"/><stop offset="1" stop-color="#cc0079"/></linearGradient><linearGradient id="r139"><stop offset="0" stop-color="#0047ff"/><stop offset="0.203" stop-color="#0034ff"/><stop offset="0.293" stop-color="#3529ff"/><stop offset="0.528" stop-color="#a202ff"/><stop offset="0.593" stop-color="#a700dd"/><stop offset="0.724" stop-color="#d300d3"/><stop offset="0.87" stop-color="#ce009e"/><stop offset="1" stop-color="#cb007f"/></linearGradient><linearGradient id="r140"><stop offset="0" stop-color="#0043ff"/><stop offset="0.202" stop-color="#0030ff"/><stop offset="0.353" stop-color="#4e1eff"/><stop offset="0.521" stop-color="#9700fe"/><stop offset="0.588" stop-color="#9c00dc"/><stop offset="0.748" stop-color="#d100d1"/><stop offset="0.849" stop-color="#ce00ac"/><stop offset="1" stop-color="#ca0086"/></linearGradient><linearGradient id="r141"><stop offset="0" stop-color="#003fff"/><stop offset="0.202" stop-color="#002cff"/><stop offset="0.254" stop-color="#2026ff"/><stop offset="0.5" stop-color="#8a01ff"/><stop offset="0.57" stop-color="#9000dd"/><stop offset="0.772" stop-color="#cf00cf"/><stop offset="0.868" stop-color="#cc00ae"/><stop offset="1" stop-color="#ca008d"/></linearGradient><linearGradient id="r142"><stop offset="0" stop-color="#003aff"/><stop offset="0.194" stop-color="#0029ff"/><stop offset="0.25" stop-color="#1e23ff"/><stop offset="0.481" stop-color="#7c01ff"/><stop offset="0.565" stop-color="#8700dc"/><stop offset="0.806" stop-color="#cc00cd"/><stop offset="1" stop-color="#ca0097"/></linearGradient><linearGradient id="r143"><stop offset="0" stop-color="#0036ff"/><stop offset="0.194" stop-color="#0125ff"/><stop offset="0.252" stop-color="#201fff"/><stop offset="0.456" stop-color="#6f02ff"/><stop offset="0.544" stop-color="#7b00dc"/><stop offset="0.835" stop-color="#ca00cb"/><stop offset="1" stop-color="#ca00a0"/></linearGradient><linearGradient id="r144"><stop offset="0" stop-color="#0031ff"/><stop offset="0.184" stop-color="#0021ff"/><stop offset="0.245" stop-color="#1e1bff"/><stop offset="0.439" stop-color="#6500ff"/><stop offset="0.531" stop-color="#7300dc"/><stop offset="0.867" stop-color="#c900ca"/><stop offset="1" stop-color="#ca00a9"/></linearGradient><linearGradient id="r145"><stop offset="0" stop-color="#002eff"/><stop offset="0.191" stop-color="#021dff"/><stop offset="0.245" stop-color="#1c18ff"/><stop offset="0.415" stop-color="#5801ff"/><stop offset="0.511" stop-color="#6700dc"/><stop offset="0.904" stop-color="#c800ca"/><stop offset="1" stop-color="#ca00b3"/></linearGradient><linearGradient id="r146"><stop offset="0" stop-color="#0029ff"/><stop offset="0.18" stop-color="#001aff"/><stop offset="0.236" stop-color="#1a14ff"/><stop offset="0.393" stop-color="#4e00fd"/><stop offset="0.483" stop-color="#5d00dd"/><stop offset="0.944" stop-color="#c800ca"/><stop offset="1" stop-color="#ca00be"/></linearGradient><linearGradient id="r147"><stop offset="0" stop-color="#0024ff"/><stop offset="0.169" stop-color="#0017ff"/><stop offset="0.361" stop-color="#4200fe"/><stop offset="0.47" stop-color="#5400dc"/><stop offset="1" stop-color="#c800ca"/></linearGradient><linearGradient id="r148"><stop offset="0" stop-color="#001fff"/><stop offset="0.167" stop-color="#0012ff"/><stop offset="0.333" stop-color="#3800fb"/><stop offset="0.449" stop-color="#4c00dc"/><stop offset="1" stop-color="#bc00ca"/></linearGradient><linearGradient id="r149"><stop offset="0" stop-color="#001aff"/><stop offset="0.151" stop-color="#000eff"/><stop offset="0.274" stop-color="#2801ff"/><stop offset="0.411" stop-color="#4200dc"/><stop offset="1" stop-color="#b000ca"/></linearGradient><linearGradient id="r150"><stop offset="0" stop-color="#0015ff"/><stop offset="0.147" stop-color="#0109ff"/><stop offset="0.235" stop-color="#1e00fd"/><stop offset="0.368" stop-color="#3700dc"/><stop offset="1" stop-color="#a500ca"/></linearGradient><linearGradient id="r151"><stop offset="0" stop-color="#0011ff"/><stop offset="0.141" stop-color="#0005ff"/><stop offset="0.188" stop-color="#0f00fe"/><stop offset="0.344" stop-color="#2f00dc"/><stop offset="1" stop-color="#9b00ca"/></linearGradient><linearGradient id="r152"><stop offset="0" stop-color="#000bff"/><stop offset="0.138" stop-color="#0200fb"/><stop offset="0.293" stop-color="#2400dc"/><stop offset="1" stop-color="#8d00ca"/></linearGradient><linearGradient id="r153"><stop offset="0" stop-color="#0004ff"/><stop offset="0.113" stop-color="#0000f2"/><stop offset="0.226" stop-color="#1900dd"/><stop offset="1" stop-color="#8300ca"/></linearGradient><linearGradient id="r154"><stop offset="0" stop-color="#0000f7"/><stop offset="0.0833" stop-color="#0000e9"/><stop offset="0.167" stop-color="#1000dc"/><stop offset="0.542" stop-color="#4500d5"/><stop offset="1" stop-color="#7900ca"/></linearGradient><linearGradient id="r155"><stop offset="0" stop-color="#0000e7"/><stop offset="0.093" stop-color="#0600dc"/><stop offset="0.442" stop-color="#3600d6"/><stop offset="1" stop-color="#7000cb"/></linearGradient><linearGradient id="r156"><stop offset="0" stop-color="#0000dc"/><stop offset="0.378" stop-color="#2c00d6"/><stop offset="1" stop-color="#6500cc"/></linearGradient><linearGradient id="r157"><stop offset="0" stop-color="#0600da"/><stop offset="0.387" stop-color="#2d00d5"/><stop offset="1" stop-color="#5c00cc"/></linearGradient><linearGradient id="r158"><stop offset="0" stop-color="#0c00d8"/><stop offset="1" stop-color="#5300cd"/></linearGradient><linearGradient id="r159"><stop offset="0" stop-color="#1500d6"/><stop offset="1" stop-color="#4a00cd"/></linearGradient><linearGradient id="r160"><stop offset="0" stop-color="#2200d3"/><stop offset="1" stop-color="#4100ce"/></linearGradient><clipPath id="lc"><path d="M129.1,510.9C128.5,510.8 126.6,510.4 125.5,510.0C124.4,509.6 123.3,509.0 122.3,508.2C121.2,507.4 120.2,506.3 119.2,505.0C118.2,503.7 117.8,503.3 116.4,500.6C115.0,497.9 113.0,493.5 111.0,489.0C109.0,484.5 106.9,478.9 104.7,473.4C102.5,467.9 100.2,462.1 97.9,455.9C95.6,449.7 93.2,442.9 91.1,436.4C89.0,429.9 87.2,423.3 85.3,417.0C83.4,410.7 81.3,404.3 79.5,398.5C77.7,392.7 76.2,388.7 74.2,382.0C72.2,375.3 69.6,366.4 67.7,358.3C65.8,350.2 64.2,342.7 62.9,333.3C61.6,323.9 60.7,311.7 60.0,302.0C59.3,292.3 59.1,281.6 58.9,275.0C58.7,268.4 58.7,266.7 58.8,262.5C58.9,258.3 59.1,253.9 59.5,250.0C59.9,246.1 60.3,242.8 60.9,239.3C61.5,235.9 62.3,232.6 63.3,229.3C64.3,226.0 65.5,222.9 66.7,219.6C68.0,216.2 69.4,212.3 70.8,209.2C72.2,206.1 73.4,203.2 75.0,200.8C76.6,198.4 78.5,196.2 80.2,194.8C81.9,193.4 83.5,192.9 85.4,192.4C87.3,191.9 89.6,191.7 91.7,191.6C93.8,191.5 95.5,191.7 97.9,192.1C100.3,192.5 103.1,193.2 106.2,194.2C109.4,195.2 113.2,196.8 116.7,198.3C120.2,199.9 123.6,201.7 127.1,203.5C130.6,205.3 133.3,206.8 137.5,209.3C141.7,211.8 147.3,215.2 152.2,218.6C157.2,222.0 162.2,225.7 167.1,229.6C172.1,233.5 177.0,237.8 181.9,242.0C186.8,246.2 191.7,250.5 196.6,254.9C201.6,259.4 206.5,264.1 211.4,268.7C216.3,273.3 221.2,278.0 226.1,282.7C231.0,287.3 235.9,292.0 240.7,296.6C245.5,301.2 250.3,305.9 255.0,310.4C259.7,315.0 264.4,319.5 268.9,323.9C273.4,328.2 277.9,332.6 282.2,336.7C286.5,340.9 290.8,345.0 294.8,348.8C298.8,352.7 302.6,356.5 306.2,359.9C309.8,363.3 313.0,366.5 316.1,369.5C319.3,372.5 322.2,375.4 324.9,377.9C327.6,380.5 329.9,382.8 332.1,384.9C334.3,387.0 336.3,388.9 338.0,390.6C339.8,392.3 340.8,393.3 342.7,395.2C344.7,397.0 347.6,399.9 349.5,401.7C351.4,403.5 353.3,405.2 354.0,405.9L133.2,510.9Q131.0,512.0 129.1,510.9Z"/></clipPath></defs><rect x="58" y="182.5" width="345" height="336" fill="#808080"/><g clip-path="url(#lc)"><rect x="88" y="190" width="8" height="2.3" fill="url(#r0)"/><rect x="80" y="192" width="27" height="2.3" fill="url(#r1)"/><rect x="77" y="194" width="35" height="2.3" fill="url(#r2)"/><rect x="76" y="196" width="41" height="2.3" fill="url(#r3)"/><rect x="74" y="198" width="48" height="2.3" fill="url(#r4)"/><rect x="72" y="200" width="54" height="2.3" fill="url(#r5)"/><rect x="71" y="202" width="59" height="2.3" fill="url(#r6)"/><rect x="70" y="204" width="63" height="2.3" fill="url(#r7)"/><rect x="69" y="206" width="68" height="2.3" fill="url(#r8)"/><rect x="69" y="208" width="71" height="2.3" fill="url(#r9)"/><rect x="68" y="210" width="75" height="2.3" fill="url(#r10)"/><rect x="67" y="212" width="80" height="2.3" fill="url(#r11)"/><rect x="66" y="214" width="84" height="2.3" fill="url(#r12)"/><rect x="65" y="216" width="88" height="2.3" fill="url(#r13)"/><rect x="65" y="218" width="91" height="2.3" fill="url(#r14)"/><rect x="64" y="220" width="95" height="2.3" fill="url(#r15)"/><rect x="63" y="222" width="98" height="2.3" fill="url(#r16)"/><rect x="63" y="224" width="101" height="2.3" fill="url(#r17)"/><rect x="62" y="226" width="105" height="2.3" fill="url(#r18)"/><rect x="61" y="228" width="108" height="2.3" fill="url(#r19)"/><rect x="61" y="230" width="111" height="2.3" fill="url(#r20)"/><rect x="60" y="232" width="114" height="2.3" fill="url(#r21)"/><rect x="60" y="234" width="117" height="2.3" fill="url(#r22)"/><rect x="59" y="236" width="120" height="2.3" fill="url(#r23)"/><rect x="59" y="238" width="122" height="2.3" fill="url(#r24)"/><rect x="59" y="240" width="125" height="2.3" fill="url(#r25)"/><rect x="58" y="242" width="128" height="2.3" fill="url(#r26)"/><rect x="58" y="244" width="130" height="2.3" fill="url(#r27)"/><rect x="58" y="246" width="133" height="2.3" fill="url(#r28)"/><rect x="58" y="248" width="135" height="2.3" fill="url(#r29)"/><rect x="58" y="250" width="137" height="2.3" fill="url(#r30)"/><rect x="58" y="252" width="139" height="2.3" fill="url(#r31)"/><rect x="58" y="254" width="142" height="2.3" fill="url(#r32)"/><rect x="58" y="256" width="144" height="2.3" fill="url(#r33)"/><rect x="58" y="258" width="146" height="2.3" fill="url(#r34)"/><rect x="58" y="260" width="148" height="2.3" fill="url(#r35)"/><rect x="58" y="262" width="150" height="2.3" fill="url(#r36)"/><rect x="58" y="264" width="152" height="2.3" fill="url(#r37)"/><rect x="58" y="266" width="154" height="2.3" fill="url(#r38)"/><rect x="58" y="268" width="157" height="2.3" fill="url(#r39)"/><rect x="58" y="270" width="159" height="2.3" fill="url(#r40)"/><rect x="58" y="272" width="161" height="2.3" fill="url(#r41)"/><rect x="58" y="274" width="163" height="2.3" fill="url(#r42)"/><rect x="58" y="276" width="165" height="2.3" fill="url(#r43)"/><rect x="58" y="278" width="167" height="2.3" fill="url(#r44)"/><rect x="58" y="280" width="169" height="2.3" fill="url(#r45)"/><rect x="58" y="282" width="171" height="2.3" fill="url(#r46)"/><rect x="58" y="284" width="173" height="2.3" fill="url(#r47)"/><rect x="58" y="286" width="175" height="2.3" fill="url(#r48)"/><rect x="58" y="288" width="178" height="2.3" fill="url(#r49)"/><rect x="58" y="290" width="180" height="2.3" fill="url(#r50)"/><rect x="58" y="292" width="182" height="2.3" fill="url(#r51)"/><rect x="58" y="294" width="184" height="2.3" fill="url(#r52)"/><rect x="58" y="296" width="186" height="2.3" fill="url(#r53)"/><rect x="58" y="298" width="188" height="2.3" fill="url(#r54)"/><rect x="58" y="300" width="190" height="2.3" fill="url(#r55)"/><rect x="58" y="302" width="192" height="2.3" fill="url(#r56)"/><rect x="58" y="304" width="194" height="2.3" fill="url(#r57)"/><rect x="58" y="306" width="196" height="2.3" fill="url(#r58)"/><rect x="59" y="308" width="197" height="2.3" fill="url(#r59)"/><rect x="59" y="310" width="199" height="2.3" fill="url(#r60)"/><rect x="59" y="312" width="202" height="2.3" fill="url(#r61)"/><rect x="59" y="314" width="204" height="2.3" fill="url(#r62)"/><rect x="59" y="316" width="206" height="2.3" fill="url(#r63)"/><rect x="60" y="318" width="207" height="2.3" fill="url(#r64)"/><rect x="60" y="320" width="209" height="2.3" fill="url(#r65)"/><rect x="60" y="322" width="211" height="2.3" fill="url(#r66)"/><rect x="60" y="324" width="213" height="2.3" fill="url(#r67)"/><rect x="60" y="326" width="215" height="2.3" fill="url(#r68)"/><rect x="60" y="328" width="217" height="2.3" fill="url(#r69)"/><rect x="61" y="330" width="218" height="2.3" fill="url(#r70)"/><rect x="61" y="332" width="220" height="2.3" fill="url(#r71)"/><rect x="61" y="334" width="222" height="2.3" fill="url(#r72)"/><rect x="61" y="336" width="224" height="2.3" fill="url(#r73)"/><rect x="62" y="338" width="225" height="2.3" fill="url(#r74)"/><rect x="62" y="340" width="227" height="2.3" fill="url(#r75)"/><rect x="63" y="342" width="229" height="2.3" fill="url(#r76)"/><rect x="63" y="344" width="231" height="2.3" fill="url(#r77)"/><rect x="63" y="346" width="233" height="2.3" fill="url(#r78)"/><rect x="64" y="348" width="234" height="2.3" fill="url(#r79)"/><rect x="64" y="350" width="236" height="2.3" fill="url(#r80)"/><rect x="65" y="352" width="237" height="2.3" fill="url(#r81)"/><rect x="65" y="354" width="239" height="2.3" fill="url(#r82)"/><rect x="65" y="356" width="241" height="2.3" fill="url(#r83)"/><rect x="66" y="358" width="242" height="2.3" fill="url(#r84)"/><rect x="66" y="360" width="244" height="2.3" fill="url(#r85)"/><rect x="67" y="362" width="245" height="2.3" fill="url(#r86)"/><rect x="67" y="364" width="247" height="2.3" fill="url(#r87)"/><rect x="68" y="366" width="248" height="2.3" fill="url(#r88)"/><rect x="68" y="368" width="250" height="2.3" fill="url(#r89)"/><rect x="69" y="370" width="252" height="2.3" fill="url(#r90)"/><rect x="70" y="372" width="253" height="2.3" fill="url(#r91)"/><rect x="70" y="374" width="255" height="2.3" fill="url(#r92)"/><rect x="71" y="376" width="256" height="2.3" fill="url(#r93)"/><rect x="71" y="378" width="258" height="2.3" fill="url(#r94)"/><rect x="72" y="380" width="259" height="2.3" fill="url(#r95)"/><rect x="72" y="382" width="261" height="2.3" fill="url(#r96)"/><rect x="73" y="384" width="262" height="2.3" fill="url(#r97)"/><rect x="74" y="386" width="263" height="2.3" fill="url(#r98)"/><rect x="74" y="388" width="265" height="2.3" fill="url(#r99)"/><rect x="75" y="390" width="266" height="2.3" fill="url(#r100)"/><rect x="75" y="392" width="268" height="2.3" fill="url(#r101)"/><rect x="76" y="394" width="269" height="2.3" fill="url(#r102)"/><rect x="77" y="396" width="270" height="2.3" fill="url(#r103)"/><rect x="77" y="398" width="273" height="2.3" fill="url(#r104)"/><rect x="78" y="400" width="274" height="2.3" fill="url(#r105)"/><rect x="79" y="402" width="275" height="2.3" fill="url(#r106)"/><rect x="79" y="404" width="276" height="2.3" fill="url(#r107)"/><rect x="80" y="406" width="275" height="2.3" fill="url(#r108)"/><rect x="81" y="408" width="270" height="2.3" fill="url(#r109)"/><rect x="81" y="410" width="266" height="2.3" fill="url(#r110)"/><rect x="82" y="412" width="261" height="2.3" fill="url(#r111)"/><rect x="82" y="414" width="257" height="2.3" fill="url(#r112)"/><rect x="83" y="416" width="251" height="2.3" fill="url(#r113)"/><rect x="84" y="418" width="246" height="2.3" fill="url(#r114)"/><rect x="84" y="420" width="242" height="2.3" fill="url(#r115)"/><rect x="85" y="422" width="237" height="2.3" fill="url(#r116)"/><rect x="85" y="424" width="233" height="2.3" fill="url(#r117)"/><rect x="86" y="426" width="227" height="2.3" fill="url(#r118)"/><rect x="87" y="428" width="222" height="2.3" fill="url(#r119)"/><rect x="87" y="430" width="218" height="2.3" fill="url(#r120)"/><rect x="88" y="432" width="213" height="2.3" fill="url(#r121)"/><rect x="88" y="434" width="208" height="2.3" fill="url(#r122)"/><rect x="89" y="436" width="203" height="2.3" fill="url(#r123)"/><rect x="90" y="438" width="198" height="2.3" fill="url(#r124)"/><rect x="90" y="440" width="194" height="2.3" fill="url(#r125)"/><rect x="91" y="442" width="189" height="2.3" fill="url(#r126)"/><rect x="92" y="444" width="183" height="2.3" fill="url(#r127)"/><rect x="93" y="446" width="178" height="2.3" fill="url(#r128)"/><rect x="93" y="448" width="174" height="2.3" fill="url(#r129)"/><rect x="94" y="450" width="169" height="2.3" fill="url(#r130)"/><rect x="95" y="452" width="164" height="2.3" fill="url(#r131)"/><rect x="95" y="454" width="159" height="2.3" fill="url(#r132)"/><rect x="96" y="456" width="154" height="2.3" fill="url(#r133)"/><rect x="97" y="458" width="149" height="2.3" fill="url(#r134)"/><rect x="98" y="460" width="144" height="2.3" fill="url(#r135)"/><rect x="98" y="462" width="140" height="2.3" fill="url(#r136)"/><rect x="99" y="464" width="134" height="2.3" fill="url(#r137)"/><rect x="100" y="466" width="129" height="2.3" fill="url(#r138)"/><rect x="101" y="468" width="124" height="2.3" fill="url(#r139)"/><rect x="101" y="470" width="120" height="2.3" fill="url(#r140)"/><rect x="102" y="472" width="115" height="2.3" fill="url(#r141)"/><rect x="103" y="474" width="109" height="2.3" fill="url(#r142)"/><rect x="104" y="476" width="104" height="2.3" fill="url(#r143)"/><rect x="105" y="478" width="99" height="2.3" fill="url(#r144)"/><rect x="105" y="480" width="95" height="2.3" fill="url(#r145)"/><rect x="106" y="482" width="90" height="2.3" fill="url(#r146)"/><rect x="107" y="484" width="84" height="2.3" fill="url(#r147)"/><rect x="108" y="486" width="79" height="2.3" fill="url(#r148)"/><rect x="109" y="488" width="74" height="2.3" fill="url(#r149)"/><rect x="110" y="490" width="69" height="2.3" fill="url(#r150)"/><rect x="110" y="492" width="65" height="2.3" fill="url(#r151)"/><rect x="111" y="494" width="59" height="2.3" fill="url(#r152)"/><rect x="112" y="496" width="54" height="2.3" fill="url(#r153)"/><rect x="113" y="498" width="49" height="2.3" fill="url(#r154)"/><rect x="114" y="500" width="44" height="2.3" fill="url(#r155)"/><rect x="115" y="502" width="38" height="2.3" fill="url(#r156)"/><rect x="117" y="504" width="32" height="2.3" fill="url(#r157)"/><rect x="118" y="506" width="27" height="2.3" fill="url(#r158)"/><rect x="120" y="508" width="21" height="2.3" fill="url(#r159)"/><rect x="124" y="510" width="13" height="2.3" fill="url(#r160)"/></g><path d="M129.1,510.9C128.5,510.8 126.6,510.4 125.5,510.0C124.4,509.6 123.3,509.0 122.3,508.2C121.2,507.4 120.2,506.3 119.2,505.0C118.2,503.7 117.8,503.3 116.4,500.6C115.0,497.9 113.0,493.5 111.0,489.0C109.0,484.5 106.9,478.9 104.7,473.4C102.5,467.9 100.2,462.1 97.9,455.9C95.6,449.7 93.2,442.9 91.1,436.4C89.0,429.9 87.2,423.3 85.3,417.0C83.4,410.7 81.3,404.3 79.5,398.5C77.7,392.7 76.2,388.7 74.2,382.0C72.2,375.3 69.6,366.4 67.7,358.3C65.8,350.2 64.2,342.7 62.9,333.3C61.6,323.9 60.7,311.7 60.0,302.0C59.3,292.3 59.1,281.6 58.9,275.0C58.7,268.4 58.7,266.7 58.8,262.5C58.9,258.3 59.1,253.9 59.5,250.0C59.9,246.1 60.3,242.8 60.9,239.3C61.5,235.9 62.3,232.6 63.3,229.3C64.3,226.0 65.5,222.9 66.7,219.6C68.0,216.2 69.4,212.3 70.8,209.2C72.2,206.1 73.4,203.2 75.0,200.8C76.6,198.4 78.5,196.2 80.2,194.8C81.9,193.4 83.5,192.9 85.4,192.4C87.3,191.9 89.6,191.7 91.7,191.6C93.8,191.5 95.5,191.7 97.9,192.1C100.3,192.5 103.1,193.2 106.2,194.2C109.4,195.2 113.2,196.8 116.7,198.3C120.2,199.9 123.6,201.7 127.1,203.5C130.6,205.3 133.3,206.8 137.5,209.3C141.7,211.8 147.3,215.2 152.2,218.6C157.2,222.0 162.2,225.7 167.1,229.6C172.1,233.5 177.0,237.8 181.9,242.0C186.8,246.2 191.7,250.5 196.6,254.9C201.6,259.4 206.5,264.1 211.4,268.7C216.3,273.3 221.2,278.0 226.1,282.7C231.0,287.3 235.9,292.0 240.7,296.6C245.5,301.2 250.3,305.9 255.0,310.4C259.7,315.0 264.4,319.5 268.9,323.9C273.4,328.2 277.9,332.6 282.2,336.7C286.5,340.9 290.8,345.0 294.8,348.8C298.8,352.7 302.6,356.5 306.2,359.9C309.8,363.3 313.0,366.5 316.1,369.5C319.3,372.5 322.2,375.4 324.9,377.9C327.6,380.5 329.9,382.8 332.1,384.9C334.3,387.0 336.3,388.9 338.0,390.6C339.8,392.3 340.8,393.3 342.7,395.2C344.7,397.0 347.6,399.9 349.5,401.7C351.4,403.5 353.3,405.2 354.0,405.9L133.2,510.9Q131.0,512.0 129.1,510.9Z" fill="none" stroke="#6c1c74" stroke-width="1.9" stroke-linejoin="round"/><path d="M57.5,182 V518.5 H404.5 M57.5,514.5 V522.5 M53,518.5 H62 M98.5,514.5 V522.5 M53,478.5 H62 M140.5,514.5 V522.5 M53,438.5 H62 M181.5,514.5 V522.5 M53,398.5 H62 M222.5,514.5 V522.5 M53,358.5 H62 M263.5,514.5 V522.5 M53,318.5 H62 M304.5,514.5 V522.5 M53,278.5 H62 M346.5,514.5 V522.5 M53,238.5 H62 M387.5,514.5 V522.5 M53,198.5 H62" fill="none" stroke="#000" stroke-width="1" shape-rendering="crispEdges"/><text x="57.2" y="541.1" font-size="15" text-anchor="middle" fill="#1a1a1a">0</text><text x="44.7" y="522.5" font-size="15" text-anchor="end" fill="#1a1a1a">0</text><text x="98.5" y="541.1" font-size="15" text-anchor="middle" fill="#1a1a1a">0.1</text><text x="44.7" y="482.5" font-size="15" text-anchor="end" fill="#1a1a1a">0.1</text><text x="139.7" y="541.1" font-size="15" text-anchor="middle" fill="#1a1a1a">0.2</text><text x="44.7" y="442.5" font-size="15" text-anchor="end" fill="#1a1a1a">0.2</text><text x="180.9" y="541.1" font-size="15" text-anchor="middle" fill="#1a1a1a">0.3</text><text x="44.7" y="402.5" font-size="15" text-anchor="end" fill="#1a1a1a">0.3</text><text x="222.2" y="541.1" font-size="15" text-anchor="middle" fill="#1a1a1a">0.4</text><text x="44.7" y="362.5" font-size="15" text-anchor="end" fill="#1a1a1a">0.4</text><text x="263.4" y="541.1" font-size="15" text-anchor="middle" fill="#1a1a1a">0.5</text><text x="44.7" y="322.5" font-size="15" text-anchor="end" fill="#1a1a1a">0.5</text><text x="304.7" y="541.1" font-size="15" text-anchor="middle" fill="#1a1a1a">0.6</text><text x="44.7" y="282.5" font-size="15" text-anchor="end" fill="#1a1a1a">0.6</text><text x="345.9" y="541.1" font-size="15" text-anchor="middle" fill="#1a1a1a">0.7</text><text x="44.7" y="242.5" font-size="15" text-anchor="end" fill="#1a1a1a">0.7</text><text x="387.2" y="541.1" font-size="15" text-anchor="middle" fill="#1a1a1a">0.8</text><text x="44.7" y="202.5" font-size="15" text-anchor="end" fill="#1a1a1a">0.8</text><text x="165.2" y="179.4" font-size="27.5" textLength="135.6" lengthAdjust="spacingAndGlyphs" fill="#111">CIE Gamut</text><text x="220.6" y="568" font-size="14.5" text-anchor="middle" fill="#1a1a1a">x</text><text x="0" y="354.4" font-size="14.5" fill="#1a1a1a">y</text><linearGradient id="pg" gradientUnits="userSpaceOnUse" x1="160" y1="420" x2="192" y2="384"><stop offset="0" stop-color="#28386a" stop-opacity="0.75"/><stop offset="0.45" stop-color="#141a30" stop-opacity="0.9"/><stop offset="1" stop-color="#0a0a0a" stop-opacity="0.95"/></linearGradient><path d="M161.7,417.6 L164.5,413.8 L167.8,409.7 L171.4,405.3 L175.3,400.9 L179.5,396.4 L183.9,391.8 L188.5,387.4 L193.4,383.2 L198.3,379.1 L203.2,375.3 L208.3,371.8 L213.3,368.5 L218.3,365.6 L223.2,363.0 L228.0,360.7 L232.7,358.7 L237.3,357.0 L241.8,355.6 L246.1,354.5 L250.3,353.6 L254.4,353.0 L258.2,352.6 L262.0,352.4 L265.5,352.4 L269.0,352.5 L272.2,352.8 L275.4,353.3 L278.4,353.8 L281.2,354.5 L283.9,355.2 L286.6,356.0 L289.1,356.9 L291.5,357.8 L293.7,358.7 L295.9,359.7 L298.1,360.7 L300.1,361.8 L302.0,362.8 L303.9,363.9 L305.7,364.9 L307.4,366.0 L309.0,367.1 L310.6,368.1 L312.2,369.2 L313.6,370.2 L315.0,371.3 L316.4,372.3 L317.7,373.3 L319.0,374.3 L320.2,375.3 L321.4,376.2 L322.6,377.2 L323.7,378.1 L324.8,379.0 L325.8,379.9 L326.8,380.8 L327.8,381.6 L328.8,382.5 L329.7,383.3" fill="none" stroke="url(#pg)" stroke-width="3.2" stroke-linecap="butt"/><path d="M320.7,385.7 L180.4,277.7 L118.6,493.7 Z" fill="none" stroke="#d0d0d0" stroke-opacity="0.7" stroke-width="1"/><path d="M327.8,384.9 L163.6,252.4 L117.9,494.7" fill="none" stroke="#000" stroke-opacity="0.8" stroke-width="1.05" stroke-dasharray="3.2,1.6"/><path d="M117.9,494.7 L327.8,384.9" fill="none" stroke="#1a1a1a" stroke-width="1"/><rect x="174.6" y="271.9" width="11.6" height="11.6" transform="rotate(45 180.4 277.7)" fill="#178517" stroke="#2a8f2a" stroke-width="1"/><rect x="315.9" y="380.9" width="9.6" height="9.6" transform="rotate(45 320.7 385.7)" fill="#f02020" stroke="#ff5050" stroke-width="1"/><rect x="113.8" y="488.9" width="9.6" height="9.6" transform="rotate(45 118.6 493.7)" fill="#1c1c9c" stroke="#3838b0" stroke-width="1"/><rect x="143.5" y="380.4" width="11.6" height="11.6" transform="rotate(45 149.3 386.2)" fill="none" stroke="#186868" stroke-width="1"/><rect x="183.3" y="450.3" width="11.6" height="11.6" transform="rotate(45 189.1 456.1)" fill="none" stroke="#902090" stroke-width="1"/><rect x="223.9" y="309.8" width="11.6" height="11.6" transform="rotate(45 229.7 315.6)" fill="none" stroke="#404000" stroke-width="1"/><rect x="179.9" y="380.3" width="11.6" height="11.6" transform="rotate(45 185.7 386.1)" fill="#ffffff" stroke="#202020" stroke-width="1"/><circle cx="327.8" cy="384.9" r="4.3" fill="#000" stroke="#fff" stroke-opacity="1.00" stroke-width="1"/><circle cx="163.6" cy="252.4" r="4.3" fill="#000" stroke="#fff" stroke-opacity="0.55" stroke-width="1"/><circle cx="117.9" cy="494.7" r="4.3" fill="#000" stroke="#fff" stroke-opacity="1.00" stroke-width="1"/><circle cx="137.2" cy="393.8" r="4.3" fill="#000" stroke="#fff" stroke-opacity="0.55" stroke-width="1"/><circle cx="177.2" cy="463.7" r="4.3" fill="#000" stroke="#fff" stroke-opacity="1.00" stroke-width="1"/><circle cx="229.4" cy="307.1" r="4.3" fill="#000" stroke="#fff" stroke-opacity="0.55" stroke-width="1"/><circle cx="175.7" cy="404.0" r="4.3" fill="#000" stroke="#fff" stroke-opacity="1.00" stroke-width="1"/></svg>
<div class="abs" style="left:412px;top:154px;width:546px;height:396px;border:1px solid #000;background:linear-gradient(172deg,#e9e9e9 0%,#e3e3e3 30%,#cfcfcf 65%,#b3b3b3 100%);"></div><div class="abs" style="left:454px;top:550px;width:81px;height:23px;background:#dcdcdc;"></div><svg width="960" height="720" viewBox="0 0 960 720"><rect x="453" y="194" width="485" height="316" fill="#fff"/><path d="M453,478.5 H938 M453,446.5 H938 M453,415.5 H938 M453,384.5 H938 M453,352.5 H938 M453,320.5 H938 M453,289.5 H938 M453,258.5 H938 M453,226.5 H938 M453,194.5 H938" stroke="#6a9090" stroke-width="1" fill="none" shape-rendering="crispEdges"/><rect x="459.5" y="194.5" width="28.0" height="315.0" fill="#ffffff" stroke="#000" stroke-width="1"/><rect x="488" y="194" width="27" height="316.0" fill="#000"/><text x="487.2" y="531.2" font-size="13.5" text-anchor="middle" fill="#2a2a2a">White</text><rect x="528.5" y="442.5" width="28.0" height="67.0" fill="#ff0000" stroke="#000" stroke-width="1"/><rect x="557" y="448" width="28" height="62.0" fill="#000"/><text x="556.6" y="531.2" font-size="13.5" text-anchor="middle" fill="#2a2a2a">Red</text><rect x="598.5" y="284.5" width="28.0" height="225.0" fill="#008000" stroke="#000" stroke-width="1"/><rect x="627" y="215" width="27" height="295.0" fill="#000"/><text x="626.0" y="531.2" font-size="13.5" text-anchor="middle" fill="#2a2a2a">Green</text><rect x="667.5" y="486.5" width="28.0" height="23.0" fill="#0000ff" stroke="#000" stroke-width="1"/><rect x="696" y="482" width="28" height="28.0" fill="#000"/><text x="695.4" y="531.2" font-size="13.5" text-anchor="middle" fill="#2a2a2a">Blue</text><rect x="737.5" y="261.5" width="27.0" height="248.0" fill="#00ffff" stroke="#000" stroke-width="1"/><rect x="765" y="219" width="28" height="291.0" fill="#000"/><text x="764.8" y="531.2" font-size="13.5" text-anchor="middle" fill="#2a2a2a">Cyan</text><rect x="806.5" y="419.5" width="28.0" height="90.0" fill="#ff00ff" stroke="#000" stroke-width="1"/><rect x="835" y="417" width="27" height="93.0" fill="#000"/><text x="834.2" y="531.2" font-size="13.5" text-anchor="middle" fill="#2a2a2a">Magenta</text><rect x="875.5" y="217.5" width="28.0" height="292.0" fill="#ffff00" stroke="#000" stroke-width="1"/><rect x="904" y="194" width="28" height="316.0" fill="#000"/><text x="903.6" y="531.2" font-size="13.5" text-anchor="middle" fill="#2a2a2a">Yellow</text><path d="M452,194 V511 M451,510 H938 M448,510 H456 M448,478 H456 M448,446 H456 M448,415 H456 M448,384 H456 M448,352 H456 M448,320 H456 M448,289 H456 M448,258 H456 M448,226 H456 M448,194 H456 M452,506 V514 M522,506 V514 M591,506 V514 M661,506 V514 M730,506 V514 M800,506 V514 M869,506 V514 M938,506 V514" stroke="#6a9090" stroke-width="2" fill="none"/><text x="440.3" y="513.4" font-size="13.3" text-anchor="end" fill="#2a2a2a">0.0</text><text x="440.3" y="481.9" font-size="13.3" text-anchor="end" fill="#2a2a2a">0.1</text><text x="440.3" y="450.4" font-size="13.3" text-anchor="end" fill="#2a2a2a">0.2</text><text x="440.3" y="418.9" font-size="13.3" text-anchor="end" fill="#2a2a2a">0.3</text><text x="440.3" y="387.4" font-size="13.3" text-anchor="end" fill="#2a2a2a">0.4</text><text x="440.3" y="355.9" font-size="13.3" text-anchor="end" fill="#2a2a2a">0.5</text><text x="440.3" y="324.4" font-size="13.3" text-anchor="end" fill="#2a2a2a">0.6</text><text x="440.3" y="292.9" font-size="13.3" text-anchor="end" fill="#2a2a2a">0.7</text><text x="440.3" y="261.4" font-size="13.3" text-anchor="end" fill="#2a2a2a">0.8</text><text x="440.3" y="229.9" font-size="13.3" text-anchor="end" fill="#2a2a2a">0.9</text><text x="440.3" y="198.4" font-size="13.3" text-anchor="end" fill="#2a2a2a">1.0</text><text x="639.6" y="173.8" font-size="17.5" textLength="90.5" lengthAdjust="spacingAndGlyphs" fill="#1a1a1a">Luminance</text></svg>
<div class="abs" style="left:535px;top:535px;width:424px;height:183px;border:1px solid #000;background:linear-gradient(172deg,#eaeaea 0%,#e1e1e1 35%,#c9c9c9 75%,#b5b5b5 100%);"></div><svg width="960" height="720" viewBox="0 0 960 720"><rect x="606" y="574" width="333" height="104" fill="#fff"/><path d="M632.5,574 V678 M660.5,574 V678 M688.5,574 V678 M716.5,574 V678 M744.5,574 V678 M771.5,574 V678 M799.5,574 V678 M827.5,574 V678 M855.5,574 V678 M883.5,574 V678 M911.5,574 V678 M938.5,574 V678" stroke="#6a9090" stroke-width="1" fill="none" shape-rendering="crispEdges"/><rect x="605.5" y="576.5" width="327.0" height="12" fill="#ffffff" stroke="#000" stroke-width="1"/><text x="594" y="585.6" font-size="12" text-anchor="end" fill="#202020">White</text><rect x="605.5" y="591.5" width="114.0" height="12" fill="#ff0000" stroke="#000" stroke-width="1"/><text x="594" y="600.5" font-size="12" text-anchor="end" fill="#202020">Red</text><rect x="605.5" y="606.5" width="315.0" height="12" fill="#008000" stroke="#000" stroke-width="1"/><text x="594" y="615.3" font-size="12" text-anchor="end" fill="#202020">Green</text><rect x="605.5" y="621.5" width="99.0" height="12" fill="#0000ff" stroke="#000" stroke-width="1"/><text x="594" y="630.1" font-size="12" text-anchor="end" fill="#202020">Blue</text><rect x="605.5" y="636.5" width="220.0" height="12" fill="#00ffff" stroke="#000" stroke-width="1"/><text x="594" y="645.0" font-size="12" text-anchor="end" fill="#202020">Cyan</text><rect x="605.5" y="650.5" width="104.0" height="12" fill="#ff00ff" stroke="#000" stroke-width="1"/><text x="594" y="659.8" font-size="12" text-anchor="end" fill="#202020">Magenta</text><rect x="605.5" y="665.5" width="114.0" height="12" fill="#ffff00" stroke="#000" stroke-width="1"/><text x="594" y="674.7" font-size="12" text-anchor="end" fill="#202020">Yellow</text><path d="M688.5,574 V678 M744.5,574 V678 M883.5,574 V678" stroke="#e02020" stroke-width="1" fill="none" shape-rendering="crispEdges"/><path d="M605,573 V679 M604,678 H940 M601,574 H609 M601,589 H609 M601,604 H609 M601,619 H609 M601,633 H609 M601,648 H609 M601,663 H609 M601,678 H609 M605,674 V682 M633,674 V682 M661,674 V682 M689,674 V682 M717,674 V682 M745,674 V682 M772,674 V682 M800,674 V682 M828,674 V682 M856,674 V682 M884,674 V682 M912,674 V682 M939,674 V682" stroke="#6a9090" stroke-width="2" fill="none"/><text x="605.3" y="698" font-size="12" text-anchor="middle" fill="#202020">0</text><text x="633.1" y="698" font-size="12" text-anchor="middle" fill="#202020">1</text><text x="661.0" y="698" font-size="12" text-anchor="middle" fill="#202020">2</text><text x="688.8" y="698" font-size="12" text-anchor="middle" fill="#202020">3</text><text x="716.6" y="698" font-size="12" text-anchor="middle" fill="#202020">4</text><text x="744.4" y="698" font-size="12" text-anchor="middle" fill="#202020">5</text><text x="772.3" y="698" font-size="12" text-anchor="middle" fill="#202020">6</text><text x="800.1" y="698" font-size="12" text-anchor="middle" fill="#202020">7</text><text x="827.9" y="698" font-size="12" text-anchor="middle" fill="#202020">8</text><text x="855.8" y="698" font-size="12" text-anchor="middle" fill="#202020">9</text><text x="883.6" y="698" font-size="12" text-anchor="middle" fill="#202020">10</text><text x="911.4" y="698" font-size="12" text-anchor="middle" fill="#202020">11</text><text x="939.3" y="698" font-size="12" text-anchor="middle" fill="#202020">12</text><text x="696.4" y="554.8" font-size="17.5" textLength="101.2" lengthAdjust="spacingAndGlyphs" fill="#1a1a1a">DeltaE 1994</text></svg>
<div class="abs" style="left:0;top:718px;width:960px;height:2px;background:#e2e2e2;"></div><div class="abs" style="left:0;top:573px;width:535px;height:145px;background:#fff;border:2px solid #000;"></div><div class="abs" style="left:531px;top:575px;width:2px;height:141px;background:#6e6e6e;"></div><div class="abs" style="left:2px;top:575px;width:529px;height:21px;background:#ece9d8;"></div><div class="abs" style="left:2px;top:597px;width:49px;height:19px;background:#316ac5;"></div><svg width="960" height="720" viewBox="0 0 960 720"><path d="M51.5,596 V716 M111.5,596 V716 M171.5,596 V716 M231.5,596 V716 M291.5,596 V716 M351.5,596 V716 M411.5,596 V716 M471.5,596 V716 M2,596.5 H531 M2,616.5 H531 M2,636.5 H531 M2,656.5 H531 M2,676.5 H531 M2,696.5 H531" stroke="#808080" stroke-width="1" fill="none" shape-rendering="crispEdges"/><path d="M50.5,577 V593 M110.5,577 V593 M170.5,577 V593 M230.5,577 V593 M290.5,577 V593 M350.5,577 V593 M410.5,577 V593 M470.5,577 V593" stroke="#aca899" stroke-width="1" fill="none" shape-rendering="crispEdges"/><path d="M51.5,577 V593 M111.5,577 V593 M171.5,577 V593 M231.5,577 V593 M291.5,577 V593 M351.5,577 V593 M411.5,577 V593 M471.5,577 V593" stroke="#ffffff" stroke-width="1" fill="none" shape-rendering="crispEdges"/><path d="M2,593.5 H531" stroke="#e2decd" stroke-width="1" fill="none" shape-rendering="crispEdges"/><path d="M2,594.5 H531" stroke="#cbc7b8" stroke-width="1" fill="none" shape-rendering="crispEdges"/><path d="M2,595.5 H531" stroke="#aca899" stroke-width="1" fill="none" shape-rendering="crispEdges"/><g class="sf"><text x="5.40" y="587.80" font-size="12" textLength="34.40" lengthAdjust="spacingAndGlyphs" fill="#000">cd/m^2</text><text x="64.20" y="589.60" font-size="12" textLength="30.60" lengthAdjust="spacingAndGlyphs" fill="#000">75%W</text><text x="130.60" y="589.60" font-size="12" textLength="18.20" lengthAdjust="spacingAndGlyphs" fill="#000">Red</text><text x="185.40" y="589.60" font-size="12" textLength="28.60" lengthAdjust="spacingAndGlyphs" fill="#000">Green</text><text x="248.70" y="589.60" font-size="12" textLength="22.50" lengthAdjust="spacingAndGlyphs" fill="#000">Blue</text><text x="307.20" y="589.60" font-size="12" textLength="25.50" lengthAdjust="spacingAndGlyphs" fill="#000">Cyan</text><text x="359.80" y="589.60" font-size="12" textLength="39.90" lengthAdjust="spacingAndGlyphs" fill="#000">Magenta</text><text x="423.90" y="589.60" font-size="12" textLength="32.00" lengthAdjust="spacingAndGlyphs" fill="#000">Yellow</text><text x="486.00" y="589.60" font-size="12" textLength="28.00" lengthAdjust="spacingAndGlyphs" fill="#000">100W</text><text x="3.80" y="611.00" font-size="12" textLength="6.40" lengthAdjust="spacingAndGlyphs" fill="#fff">x</text><text x="74.80" y="613.00" font-size="12" textLength="32.60" lengthAdjust="spacingAndGlyphs" fill="#000">0.2885</text><text x="134.80" y="613.00" font-size="12" textLength="32.60" lengthAdjust="spacingAndGlyphs" fill="#000">0.6573</text><text x="194.80" y="613.00" font-size="12" textLength="32.60" lengthAdjust="spacingAndGlyphs" fill="#000">0.2591</text><text x="254.80" y="613.00" font-size="12" textLength="32.60" lengthAdjust="spacingAndGlyphs" fill="#000">0.1484</text><text x="314.80" y="613.00" font-size="12" textLength="32.60" lengthAdjust="spacingAndGlyphs" fill="#000">0.1952</text><text x="374.80" y="613.00" font-size="12" textLength="32.60" lengthAdjust="spacingAndGlyphs" fill="#000">0.2921</text><text x="434.80" y="613.00" font-size="12" textLength="32.60" lengthAdjust="spacingAndGlyphs" fill="#000">0.4186</text><text x="494.80" y="613.00" font-size="12" textLength="32.60" lengthAdjust="spacingAndGlyphs" fill="#000">0.2894</text><text x="3.80" y="631.00" font-size="12" textLength="6.40" lengthAdjust="spacingAndGlyphs" fill="#000">y</text><text x="74.80" y="633.00" font-size="12" textLength="32.60" lengthAdjust="spacingAndGlyphs" fill="#000">0.2843</text><text x="134.80" y="633.00" font-size="12" textLength="32.60" lengthAdjust="spacingAndGlyphs" fill="#000">0.3320</text><text x="194.80" y="633.00" font-size="12" textLength="32.60" lengthAdjust="spacingAndGlyphs" fill="#000">0.6632</text><text x="254.80" y="633.00" font-size="12" textLength="32.60" lengthAdjust="spacingAndGlyphs" fill="#000">0.0575</text><text x="314.80" y="633.00" font-size="12" textLength="32.60" lengthAdjust="spacingAndGlyphs" fill="#000">0.3098</text><text x="374.80" y="633.00" font-size="12" textLength="32.60" lengthAdjust="spacingAndGlyphs" fill="#000">0.1350</text><text x="434.80" y="633.00" font-size="12" textLength="32.60" lengthAdjust="spacingAndGlyphs" fill="#000">0.5264</text><text x="494.80" y="633.00" font-size="12" textLength="32.60" lengthAdjust="spacingAndGlyphs" fill="#000">0.2854</text><text x="3.80" y="651.00" font-size="12" textLength="7.60" lengthAdjust="spacingAndGlyphs" fill="#000">Y</text><text x="68.80" y="653.00" font-size="12" textLength="38.60" lengthAdjust="spacingAndGlyphs" fill="#000">79.0736</text><text x="128.80" y="653.00" font-size="12" textLength="38.60" lengthAdjust="spacingAndGlyphs" fill="#000">15.4117</text><text x="188.80" y="653.00" font-size="12" textLength="38.60" lengthAdjust="spacingAndGlyphs" fill="#000">73.7146</text><text x="254.80" y="653.00" font-size="12" textLength="32.60" lengthAdjust="spacingAndGlyphs" fill="#000">6.8680</text><text x="308.80" y="653.00" font-size="12" textLength="38.60" lengthAdjust="spacingAndGlyphs" fill="#000">72.7259</text><text x="368.80" y="653.00" font-size="12" textLength="38.60" lengthAdjust="spacingAndGlyphs" fill="#000">22.9819</text><text x="428.80" y="653.00" font-size="12" textLength="38.60" lengthAdjust="spacingAndGlyphs" fill="#000">79.1604</text><text x="482.80" y="653.00" font-size="12" textLength="44.60" lengthAdjust="spacingAndGlyphs" fill="#000">155.5612</text><text x="4.80" y="671.00" font-size="12" textLength="6.40" lengthAdjust="spacingAndGlyphs" fill="#000">T</text><text x="13.80" y="671.00" font-size="12" textLength="6.60" lengthAdjust="spacingAndGlyphs" fill="#000">x</text><text x="74.80" y="673.00" font-size="12" textLength="32.60" lengthAdjust="spacingAndGlyphs" fill="#000">0.3127</text><text x="134.80" y="673.00" font-size="12" textLength="32.60" lengthAdjust="spacingAndGlyphs" fill="#000">0.6399</text><text x="194.80" y="673.00" font-size="12" textLength="32.60" lengthAdjust="spacingAndGlyphs" fill="#000">0.3000</text><text x="254.80" y="673.00" font-size="12" textLength="32.60" lengthAdjust="spacingAndGlyphs" fill="#000">0.1500</text><text x="314.80" y="673.00" font-size="12" textLength="32.60" lengthAdjust="spacingAndGlyphs" fill="#000">0.2246</text><text x="374.80" y="673.00" font-size="12" textLength="32.60" lengthAdjust="spacingAndGlyphs" fill="#000">0.3209</text><text x="434.80" y="673.00" font-size="12" textLength="32.60" lengthAdjust="spacingAndGlyphs" fill="#000">0.4193</text><text x="494.80" y="673.00" font-size="12" textLength="32.60" lengthAdjust="spacingAndGlyphs" fill="#000">0.3127</text><text x="4.80" y="691.00" font-size="12" textLength="6.40" lengthAdjust="spacingAndGlyphs" fill="#000">T</text><text x="13.80" y="691.00" font-size="12" textLength="6.60" lengthAdjust="spacingAndGlyphs" fill="#000">y</text><text x="74.80" y="693.00" font-size="12" textLength="32.60" lengthAdjust="spacingAndGlyphs" fill="#000">0.3290</text><text x="134.80" y="693.00" font-size="12" textLength="32.60" lengthAdjust="spacingAndGlyphs" fill="#000">0.3300</text><text x="194.80" y="693.00" font-size="12" textLength="32.60" lengthAdjust="spacingAndGlyphs" fill="#000">0.6000</text><text x="254.80" y="693.00" font-size="12" textLength="32.60" lengthAdjust="spacingAndGlyphs" fill="#000">0.0599</text><text x="314.80" y="693.00" font-size="12" textLength="32.60" lengthAdjust="spacingAndGlyphs" fill="#000">0.3287</text><text x="374.80" y="693.00" font-size="12" textLength="32.60" lengthAdjust="spacingAndGlyphs" fill="#000">0.1541</text><text x="434.80" y="693.00" font-size="12" textLength="32.60" lengthAdjust="spacingAndGlyphs" fill="#000">0.5052</text><text x="494.80" y="693.00" font-size="12" textLength="32.60" lengthAdjust="spacingAndGlyphs" fill="#000">0.3290</text><text x="4.80" y="711.00" font-size="12" textLength="6.40" lengthAdjust="spacingAndGlyphs" fill="#000">T</text><text x="13.80" y="711.00" font-size="12" textLength="7.40" lengthAdjust="spacingAndGlyphs" fill="#000">Y</text><text x="68.80" y="713.00" font-size="12" textLength="38.60" lengthAdjust="spacingAndGlyphs" fill="#000">79.0736</text><text x="128.80" y="713.00" font-size="12" textLength="38.60" lengthAdjust="spacingAndGlyphs" fill="#000">16.8149</text><text x="188.80" y="713.00" font-size="12" textLength="38.60" lengthAdjust="spacingAndGlyphs" fill="#000">56.5510</text><text x="254.80" y="713.00" font-size="12" textLength="32.60" lengthAdjust="spacingAndGlyphs" fill="#000">5.7076</text><text x="308.80" y="713.00" font-size="12" textLength="38.60" lengthAdjust="spacingAndGlyphs" fill="#000">62.2586</text><text x="368.80" y="713.00" font-size="12" textLength="38.60" lengthAdjust="spacingAndGlyphs" fill="#000">22.5226</text><text x="428.80" y="713.00" font-size="12" textLength="38.60" lengthAdjust="spacingAndGlyphs" fill="#000">73.3659</text><text x="482.80" y="713.00" font-size="12" textLength="44.60" lengthAdjust="spacingAndGlyphs" fill="#000">155.5612</text></g></svg></body></html>
